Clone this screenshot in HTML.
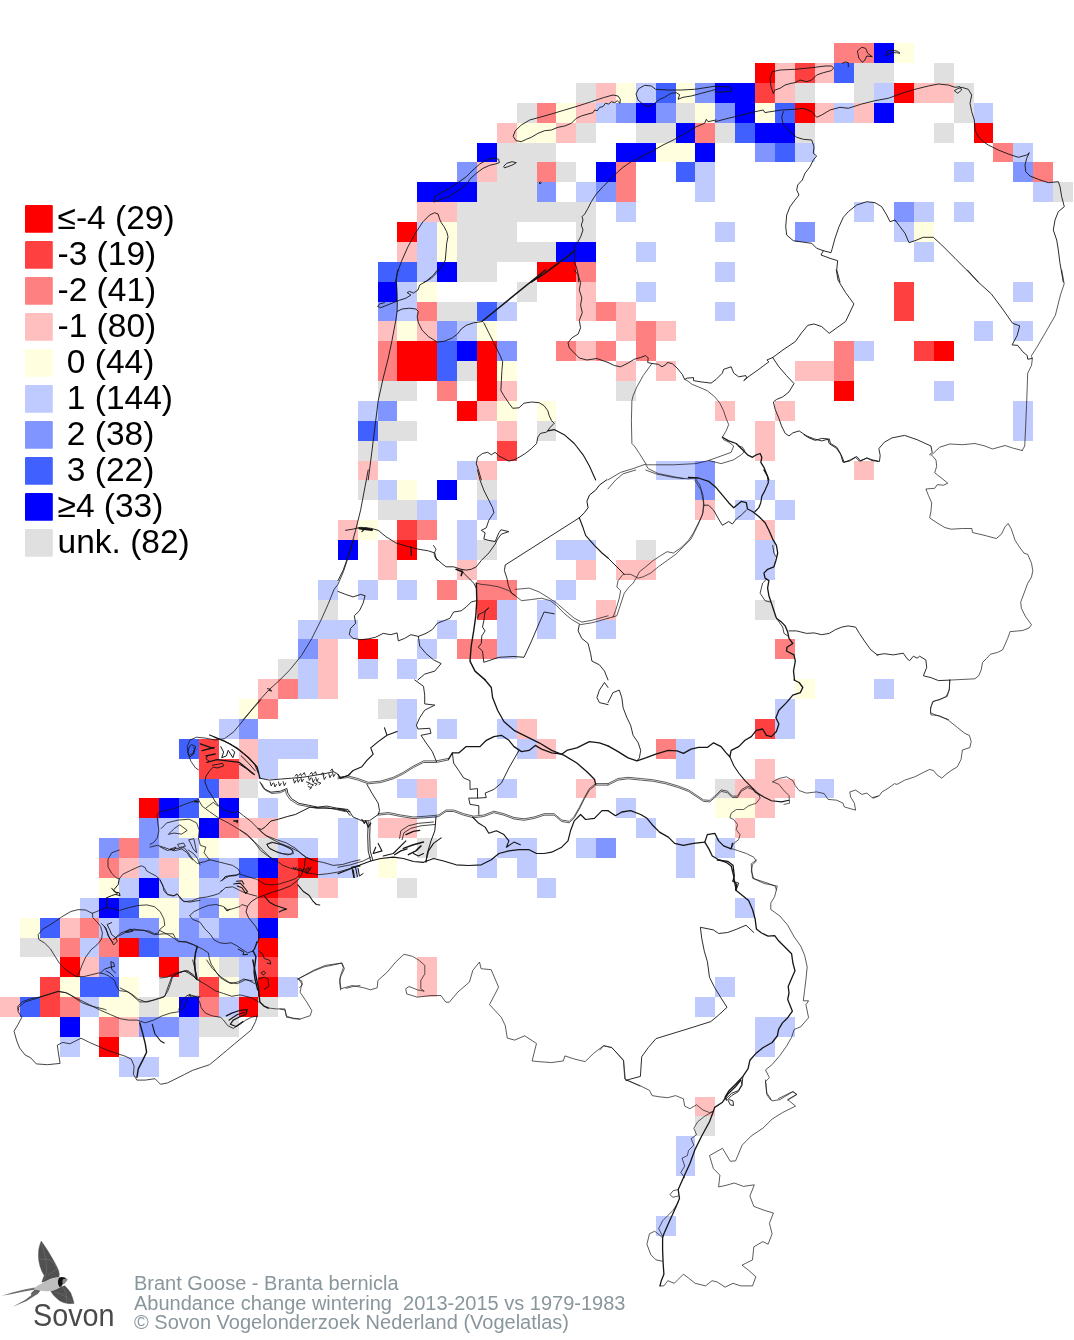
<!DOCTYPE html><html><head><meta charset="utf-8"><title>Brant Goose - Branta bernicla</title>
<style>html,body{margin:0;padding:0;background:#fff}svg{display:block;will-change:transform}text{font-family:"Liberation Sans",Arial,sans-serif}</style></head><body>
<svg width="1074" height="1340" viewBox="0 0 1074 1340">
<rect width="1074" height="1340" fill="#fff"/>
<g shape-rendering="crispEdges">
<rect x="834.48" y="43.20" width="39.73" height="19.88" fill="#ff8080"/>
<rect x="874.21" y="43.20" width="19.87" height="19.88" fill="#0000ff"/>
<rect x="894.07" y="43.20" width="19.87" height="19.88" fill="#ffffe0"/>
<rect x="755.02" y="63.08" width="19.87" height="19.88" fill="#ff0000"/>
<rect x="774.88" y="63.08" width="19.87" height="19.88" fill="#ffbfbf"/>
<rect x="794.75" y="63.08" width="19.87" height="19.88" fill="#ff4040"/>
<rect x="814.61" y="63.08" width="19.87" height="19.88" fill="#ffbfbf"/>
<rect x="834.48" y="63.08" width="19.87" height="19.88" fill="#4060ff"/>
<rect x="854.34" y="63.08" width="39.73" height="19.88" fill="#e0e0e0"/>
<rect x="933.80" y="63.08" width="19.87" height="19.88" fill="#e0e0e0"/>
<rect x="576.23" y="82.95" width="19.87" height="19.88" fill="#e0e0e0"/>
<rect x="596.10" y="82.95" width="19.87" height="19.88" fill="#ffbfbf"/>
<rect x="615.96" y="82.95" width="19.87" height="19.88" fill="#ffffe0"/>
<rect x="635.83" y="82.95" width="19.87" height="19.88" fill="#bfcaff"/>
<rect x="655.69" y="82.95" width="19.87" height="19.88" fill="#4060ff"/>
<rect x="675.56" y="82.95" width="19.87" height="19.88" fill="#ffffe0"/>
<rect x="695.42" y="82.95" width="19.87" height="19.88" fill="#8095ff"/>
<rect x="715.29" y="82.95" width="39.73" height="19.88" fill="#0000ff"/>
<rect x="755.02" y="82.95" width="19.87" height="19.88" fill="#ff4040"/>
<rect x="774.88" y="82.95" width="19.87" height="19.88" fill="#ffbfbf"/>
<rect x="794.75" y="82.95" width="19.87" height="19.88" fill="#e0e0e0"/>
<rect x="854.34" y="82.95" width="19.87" height="19.88" fill="#e0e0e0"/>
<rect x="874.21" y="82.95" width="19.87" height="19.88" fill="#bfcaff"/>
<rect x="894.07" y="82.95" width="19.87" height="19.88" fill="#ff0000"/>
<rect x="913.94" y="82.95" width="39.73" height="19.88" fill="#ffbfbf"/>
<rect x="953.67" y="82.95" width="19.86" height="19.88" fill="#e0e0e0"/>
<rect x="516.64" y="102.83" width="19.86" height="19.88" fill="#e0e0e0"/>
<rect x="536.50" y="102.83" width="19.87" height="19.88" fill="#ff8080"/>
<rect x="556.37" y="102.83" width="19.87" height="19.88" fill="#ffffe0"/>
<rect x="576.23" y="102.83" width="19.87" height="19.88" fill="#ffbfbf"/>
<rect x="596.10" y="102.83" width="19.87" height="19.88" fill="#bfcaff"/>
<rect x="615.96" y="102.83" width="19.87" height="19.88" fill="#8095ff"/>
<rect x="635.83" y="102.83" width="19.87" height="19.88" fill="#0000ff"/>
<rect x="655.69" y="102.83" width="19.87" height="19.88" fill="#8095ff"/>
<rect x="675.56" y="102.83" width="19.87" height="19.88" fill="#e0e0e0"/>
<rect x="695.42" y="102.83" width="19.87" height="19.88" fill="#ffffe0"/>
<rect x="715.29" y="102.83" width="19.87" height="19.88" fill="#8095ff"/>
<rect x="735.15" y="102.83" width="19.86" height="19.88" fill="#0000ff"/>
<rect x="755.02" y="102.83" width="19.87" height="19.88" fill="#ffffe0"/>
<rect x="774.88" y="102.83" width="19.87" height="19.88" fill="#4060ff"/>
<rect x="794.75" y="102.83" width="19.87" height="19.88" fill="#ff0000"/>
<rect x="814.61" y="102.83" width="19.87" height="19.88" fill="#ffbfbf"/>
<rect x="834.48" y="102.83" width="19.87" height="19.88" fill="#bfcaff"/>
<rect x="854.34" y="102.83" width="19.87" height="19.88" fill="#ffbfbf"/>
<rect x="874.21" y="102.83" width="19.87" height="19.88" fill="#0000ff"/>
<rect x="953.67" y="102.83" width="19.86" height="19.88" fill="#e0e0e0"/>
<rect x="973.53" y="102.83" width="19.87" height="19.88" fill="#bfcaff"/>
<rect x="496.77" y="122.70" width="19.87" height="19.87" fill="#ffbfbf"/>
<rect x="516.64" y="122.70" width="39.73" height="19.87" fill="#ffffe0"/>
<rect x="556.37" y="122.70" width="19.87" height="19.87" fill="#ffbfbf"/>
<rect x="576.23" y="122.70" width="19.87" height="19.87" fill="#e0e0e0"/>
<rect x="635.83" y="122.70" width="39.73" height="19.87" fill="#e0e0e0"/>
<rect x="675.56" y="122.70" width="19.87" height="19.87" fill="#0000ff"/>
<rect x="695.42" y="122.70" width="19.87" height="19.87" fill="#ff8080"/>
<rect x="715.29" y="122.70" width="19.87" height="19.87" fill="#e0e0e0"/>
<rect x="735.15" y="122.70" width="19.86" height="19.87" fill="#4060ff"/>
<rect x="755.02" y="122.70" width="39.73" height="19.87" fill="#0000ff"/>
<rect x="794.75" y="122.70" width="19.87" height="19.87" fill="#e0e0e0"/>
<rect x="933.80" y="122.70" width="19.87" height="19.87" fill="#e0e0e0"/>
<rect x="973.53" y="122.70" width="19.87" height="19.87" fill="#ff0000"/>
<rect x="476.91" y="142.57" width="19.86" height="19.88" fill="#0000ff"/>
<rect x="496.77" y="142.57" width="59.59" height="19.88" fill="#e0e0e0"/>
<rect x="615.96" y="142.57" width="39.73" height="19.88" fill="#0000ff"/>
<rect x="655.69" y="142.57" width="39.73" height="19.88" fill="#ffffe0"/>
<rect x="695.42" y="142.57" width="19.87" height="19.88" fill="#0000ff"/>
<rect x="755.02" y="142.57" width="19.87" height="19.88" fill="#8095ff"/>
<rect x="774.88" y="142.57" width="19.87" height="19.88" fill="#4060ff"/>
<rect x="794.75" y="142.57" width="19.87" height="19.88" fill="#bfcaff"/>
<rect x="993.40" y="142.57" width="19.87" height="19.88" fill="#ff8080"/>
<rect x="1013.26" y="142.57" width="19.87" height="19.88" fill="#bfcaff"/>
<rect x="457.04" y="162.45" width="19.87" height="19.88" fill="#8095ff"/>
<rect x="476.91" y="162.45" width="19.86" height="19.88" fill="#ffbfbf"/>
<rect x="496.77" y="162.45" width="39.73" height="19.88" fill="#e0e0e0"/>
<rect x="536.50" y="162.45" width="19.87" height="19.88" fill="#ff8080"/>
<rect x="556.37" y="162.45" width="19.87" height="19.88" fill="#e0e0e0"/>
<rect x="596.10" y="162.45" width="19.87" height="19.88" fill="#0000ff"/>
<rect x="615.96" y="162.45" width="19.87" height="19.88" fill="#ff8080"/>
<rect x="675.56" y="162.45" width="19.87" height="19.88" fill="#4060ff"/>
<rect x="695.42" y="162.45" width="19.87" height="19.88" fill="#bfcaff"/>
<rect x="953.67" y="162.45" width="19.86" height="19.88" fill="#bfcaff"/>
<rect x="1013.26" y="162.45" width="19.87" height="19.88" fill="#8095ff"/>
<rect x="1033.13" y="162.45" width="19.87" height="19.88" fill="#ff8080"/>
<rect x="417.31" y="182.32" width="59.60" height="19.88" fill="#0000ff"/>
<rect x="476.91" y="182.32" width="59.59" height="19.88" fill="#e0e0e0"/>
<rect x="536.50" y="182.32" width="19.87" height="19.88" fill="#8095ff"/>
<rect x="576.23" y="182.32" width="19.87" height="19.88" fill="#bfcaff"/>
<rect x="596.10" y="182.32" width="19.87" height="19.88" fill="#8095ff"/>
<rect x="615.96" y="182.32" width="19.87" height="19.88" fill="#ff8080"/>
<rect x="695.42" y="182.32" width="19.87" height="19.88" fill="#bfcaff"/>
<rect x="1033.13" y="182.32" width="19.87" height="19.88" fill="#bfcaff"/>
<rect x="1053.00" y="182.32" width="19.86" height="19.88" fill="#e0e0e0"/>
<rect x="417.31" y="202.20" width="39.73" height="19.88" fill="#ffbfbf"/>
<rect x="457.04" y="202.20" width="139.05" height="19.88" fill="#e0e0e0"/>
<rect x="615.96" y="202.20" width="19.87" height="19.88" fill="#bfcaff"/>
<rect x="854.34" y="202.20" width="19.87" height="19.88" fill="#bfcaff"/>
<rect x="894.07" y="202.20" width="19.87" height="19.88" fill="#8095ff"/>
<rect x="913.94" y="202.20" width="19.87" height="19.88" fill="#bfcaff"/>
<rect x="953.67" y="202.20" width="19.86" height="19.88" fill="#bfcaff"/>
<rect x="397.45" y="222.07" width="19.87" height="19.88" fill="#ff0000"/>
<rect x="417.31" y="222.07" width="19.87" height="19.88" fill="#bfcaff"/>
<rect x="437.18" y="222.07" width="19.87" height="19.88" fill="#ffffe0"/>
<rect x="457.04" y="222.07" width="59.60" height="19.88" fill="#e0e0e0"/>
<rect x="576.23" y="222.07" width="19.87" height="19.88" fill="#e0e0e0"/>
<rect x="715.29" y="222.07" width="19.87" height="19.88" fill="#bfcaff"/>
<rect x="794.75" y="222.07" width="19.87" height="19.88" fill="#8095ff"/>
<rect x="894.07" y="222.07" width="19.87" height="19.88" fill="#bfcaff"/>
<rect x="913.94" y="222.07" width="19.87" height="19.88" fill="#ffffe0"/>
<rect x="397.45" y="241.95" width="19.87" height="19.88" fill="#ffbfbf"/>
<rect x="417.31" y="241.95" width="19.87" height="19.88" fill="#bfcaff"/>
<rect x="437.18" y="241.95" width="19.87" height="19.88" fill="#ffffe0"/>
<rect x="457.04" y="241.95" width="99.32" height="19.88" fill="#e0e0e0"/>
<rect x="556.37" y="241.95" width="39.73" height="19.88" fill="#0000ff"/>
<rect x="635.83" y="241.95" width="19.87" height="19.88" fill="#bfcaff"/>
<rect x="913.94" y="241.95" width="19.87" height="19.88" fill="#bfcaff"/>
<rect x="377.58" y="261.82" width="39.73" height="19.88" fill="#4060ff"/>
<rect x="417.31" y="261.82" width="19.87" height="19.88" fill="#bfcaff"/>
<rect x="437.18" y="261.82" width="19.87" height="19.88" fill="#0000ff"/>
<rect x="457.04" y="261.82" width="39.73" height="19.88" fill="#e0e0e0"/>
<rect x="536.50" y="261.82" width="39.73" height="19.88" fill="#ff0000"/>
<rect x="576.23" y="261.82" width="19.87" height="19.88" fill="#ff8080"/>
<rect x="715.29" y="261.82" width="19.87" height="19.88" fill="#bfcaff"/>
<rect x="377.58" y="281.70" width="19.87" height="19.88" fill="#0000ff"/>
<rect x="397.45" y="281.70" width="19.87" height="19.88" fill="#bfcaff"/>
<rect x="417.31" y="281.70" width="19.87" height="19.88" fill="#ffffe0"/>
<rect x="516.64" y="281.70" width="19.86" height="19.88" fill="#e0e0e0"/>
<rect x="576.23" y="281.70" width="19.87" height="19.88" fill="#ffbfbf"/>
<rect x="635.83" y="281.70" width="19.87" height="19.88" fill="#bfcaff"/>
<rect x="894.07" y="281.70" width="19.87" height="19.88" fill="#ff4040"/>
<rect x="1013.26" y="281.70" width="19.87" height="19.88" fill="#bfcaff"/>
<rect x="377.58" y="301.57" width="19.87" height="19.88" fill="#8095ff"/>
<rect x="397.45" y="301.57" width="19.87" height="19.88" fill="#bfcaff"/>
<rect x="417.31" y="301.57" width="19.87" height="19.88" fill="#ff8080"/>
<rect x="437.18" y="301.57" width="39.73" height="19.88" fill="#e0e0e0"/>
<rect x="476.91" y="301.57" width="19.86" height="19.88" fill="#4060ff"/>
<rect x="496.77" y="301.57" width="19.87" height="19.88" fill="#bfcaff"/>
<rect x="576.23" y="301.57" width="19.87" height="19.88" fill="#ffbfbf"/>
<rect x="596.10" y="301.57" width="19.87" height="19.88" fill="#ff8080"/>
<rect x="615.96" y="301.57" width="19.87" height="19.88" fill="#ffbfbf"/>
<rect x="715.29" y="301.57" width="19.87" height="19.88" fill="#bfcaff"/>
<rect x="894.07" y="301.57" width="19.87" height="19.88" fill="#ff4040"/>
<rect x="377.58" y="321.45" width="19.87" height="19.88" fill="#ffbfbf"/>
<rect x="397.45" y="321.45" width="19.87" height="19.88" fill="#ffffe0"/>
<rect x="417.31" y="321.45" width="19.87" height="19.88" fill="#ffbfbf"/>
<rect x="437.18" y="321.45" width="19.87" height="19.88" fill="#8095ff"/>
<rect x="457.04" y="321.45" width="19.87" height="19.88" fill="#bfcaff"/>
<rect x="476.91" y="321.45" width="19.86" height="19.88" fill="#ffffe0"/>
<rect x="615.96" y="321.45" width="19.87" height="19.88" fill="#ffbfbf"/>
<rect x="635.83" y="321.45" width="19.87" height="19.88" fill="#ff8080"/>
<rect x="655.69" y="321.45" width="19.87" height="19.88" fill="#ffbfbf"/>
<rect x="973.53" y="321.45" width="19.87" height="19.88" fill="#bfcaff"/>
<rect x="1013.26" y="321.45" width="19.87" height="19.88" fill="#bfcaff"/>
<rect x="377.58" y="341.32" width="19.87" height="19.88" fill="#ff8080"/>
<rect x="397.45" y="341.32" width="39.73" height="19.88" fill="#ff0000"/>
<rect x="437.18" y="341.32" width="19.87" height="19.88" fill="#4060ff"/>
<rect x="457.04" y="341.32" width="19.87" height="19.88" fill="#0000ff"/>
<rect x="476.91" y="341.32" width="19.86" height="19.88" fill="#ff0000"/>
<rect x="496.77" y="341.32" width="19.87" height="19.88" fill="#8095ff"/>
<rect x="556.37" y="341.32" width="19.87" height="19.88" fill="#ff8080"/>
<rect x="576.23" y="341.32" width="19.87" height="19.88" fill="#ffbfbf"/>
<rect x="596.10" y="341.32" width="19.87" height="19.88" fill="#ff8080"/>
<rect x="635.83" y="341.32" width="19.87" height="19.88" fill="#ff8080"/>
<rect x="834.48" y="341.32" width="19.87" height="19.88" fill="#ff8080"/>
<rect x="854.34" y="341.32" width="19.87" height="19.88" fill="#bfcaff"/>
<rect x="913.94" y="341.32" width="19.87" height="19.88" fill="#ff4040"/>
<rect x="933.80" y="341.32" width="19.87" height="19.88" fill="#ff0000"/>
<rect x="377.58" y="361.20" width="19.87" height="19.88" fill="#ff8080"/>
<rect x="397.45" y="361.20" width="39.73" height="19.88" fill="#ff0000"/>
<rect x="437.18" y="361.20" width="19.87" height="19.88" fill="#4060ff"/>
<rect x="457.04" y="361.20" width="19.87" height="19.88" fill="#e0e0e0"/>
<rect x="476.91" y="361.20" width="19.86" height="19.88" fill="#ff0000"/>
<rect x="496.77" y="361.20" width="19.87" height="19.88" fill="#ffffe0"/>
<rect x="615.96" y="361.20" width="19.87" height="19.88" fill="#ffbfbf"/>
<rect x="655.69" y="361.20" width="19.87" height="19.88" fill="#ffbfbf"/>
<rect x="794.75" y="361.20" width="39.73" height="19.88" fill="#ffbfbf"/>
<rect x="834.48" y="361.20" width="19.87" height="19.88" fill="#ff8080"/>
<rect x="377.58" y="381.07" width="39.73" height="19.88" fill="#e0e0e0"/>
<rect x="437.18" y="381.07" width="19.87" height="19.88" fill="#ff8080"/>
<rect x="476.91" y="381.07" width="19.86" height="19.88" fill="#ff0000"/>
<rect x="496.77" y="381.07" width="19.87" height="19.88" fill="#ffbfbf"/>
<rect x="615.96" y="381.07" width="19.87" height="19.88" fill="#e0e0e0"/>
<rect x="834.48" y="381.07" width="19.87" height="19.88" fill="#ff0000"/>
<rect x="933.80" y="381.07" width="19.87" height="19.88" fill="#bfcaff"/>
<rect x="357.72" y="400.95" width="19.86" height="19.88" fill="#bfcaff"/>
<rect x="377.58" y="400.95" width="19.87" height="19.88" fill="#8095ff"/>
<rect x="457.04" y="400.95" width="19.87" height="19.88" fill="#ff0000"/>
<rect x="476.91" y="400.95" width="19.86" height="19.88" fill="#ffbfbf"/>
<rect x="496.77" y="400.95" width="19.87" height="19.88" fill="#ffffe0"/>
<rect x="536.50" y="400.95" width="19.87" height="19.88" fill="#ffffe0"/>
<rect x="715.29" y="400.95" width="19.87" height="19.88" fill="#ffbfbf"/>
<rect x="774.88" y="400.95" width="19.87" height="19.88" fill="#ffbfbf"/>
<rect x="1013.26" y="400.95" width="19.87" height="19.88" fill="#bfcaff"/>
<rect x="357.72" y="420.82" width="19.86" height="19.88" fill="#4060ff"/>
<rect x="377.58" y="420.82" width="39.73" height="19.88" fill="#e0e0e0"/>
<rect x="496.77" y="420.82" width="19.87" height="19.88" fill="#ffbfbf"/>
<rect x="536.50" y="420.82" width="19.87" height="19.88" fill="#e0e0e0"/>
<rect x="755.02" y="420.82" width="19.87" height="19.88" fill="#ffbfbf"/>
<rect x="1013.26" y="420.82" width="19.87" height="19.88" fill="#bfcaff"/>
<rect x="357.72" y="440.70" width="19.86" height="19.88" fill="#e0e0e0"/>
<rect x="377.58" y="440.70" width="19.87" height="19.88" fill="#bfcaff"/>
<rect x="496.77" y="440.70" width="19.87" height="19.88" fill="#ff4040"/>
<rect x="755.02" y="440.70" width="19.87" height="19.88" fill="#ffbfbf"/>
<rect x="357.72" y="460.57" width="19.86" height="19.88" fill="#ffbfbf"/>
<rect x="457.04" y="460.57" width="19.87" height="19.88" fill="#bfcaff"/>
<rect x="476.91" y="460.57" width="19.86" height="19.88" fill="#ffbfbf"/>
<rect x="655.69" y="460.57" width="39.73" height="19.88" fill="#bfcaff"/>
<rect x="695.42" y="460.57" width="19.87" height="19.88" fill="#8095ff"/>
<rect x="854.34" y="460.57" width="19.87" height="19.88" fill="#ffbfbf"/>
<rect x="357.72" y="480.45" width="19.86" height="19.88" fill="#e0e0e0"/>
<rect x="377.58" y="480.45" width="19.87" height="19.88" fill="#bfcaff"/>
<rect x="397.45" y="480.45" width="19.87" height="19.88" fill="#ffffe0"/>
<rect x="437.18" y="480.45" width="19.87" height="19.88" fill="#0000ff"/>
<rect x="476.91" y="480.45" width="19.86" height="19.88" fill="#e0e0e0"/>
<rect x="695.42" y="480.45" width="19.87" height="19.88" fill="#8095ff"/>
<rect x="755.02" y="480.45" width="19.87" height="19.88" fill="#bfcaff"/>
<rect x="377.58" y="500.32" width="39.73" height="19.88" fill="#e0e0e0"/>
<rect x="417.31" y="500.32" width="19.87" height="19.88" fill="#bfcaff"/>
<rect x="476.91" y="500.32" width="19.86" height="19.88" fill="#bfcaff"/>
<rect x="695.42" y="500.32" width="19.87" height="19.88" fill="#ffbfbf"/>
<rect x="735.15" y="500.32" width="19.86" height="19.88" fill="#bfcaff"/>
<rect x="774.88" y="500.32" width="19.87" height="19.88" fill="#bfcaff"/>
<rect x="337.85" y="520.20" width="19.87" height="19.88" fill="#ffbfbf"/>
<rect x="357.72" y="520.20" width="19.86" height="19.88" fill="#ffffe0"/>
<rect x="397.45" y="520.20" width="19.87" height="19.88" fill="#ff4040"/>
<rect x="417.31" y="520.20" width="19.87" height="19.88" fill="#ff8080"/>
<rect x="457.04" y="520.20" width="19.87" height="19.88" fill="#bfcaff"/>
<rect x="755.02" y="520.20" width="19.87" height="19.88" fill="#ffbfbf"/>
<rect x="337.85" y="540.08" width="19.87" height="19.88" fill="#0000ff"/>
<rect x="377.58" y="540.08" width="19.87" height="19.88" fill="#ffbfbf"/>
<rect x="397.45" y="540.08" width="19.87" height="19.88" fill="#ff0000"/>
<rect x="457.04" y="540.08" width="19.87" height="19.88" fill="#bfcaff"/>
<rect x="476.91" y="540.08" width="19.86" height="19.88" fill="#e0e0e0"/>
<rect x="556.37" y="540.08" width="39.73" height="19.88" fill="#bfcaff"/>
<rect x="635.83" y="540.08" width="19.87" height="19.88" fill="#e0e0e0"/>
<rect x="755.02" y="540.08" width="19.87" height="19.88" fill="#bfcaff"/>
<rect x="377.58" y="559.95" width="19.87" height="19.88" fill="#ffbfbf"/>
<rect x="457.04" y="559.95" width="19.87" height="19.88" fill="#ffbfbf"/>
<rect x="576.23" y="559.95" width="19.87" height="19.88" fill="#ffbfbf"/>
<rect x="615.96" y="559.95" width="39.73" height="19.88" fill="#ffbfbf"/>
<rect x="755.02" y="559.95" width="19.87" height="19.88" fill="#bfcaff"/>
<rect x="317.99" y="579.83" width="19.87" height="19.88" fill="#bfcaff"/>
<rect x="357.72" y="579.83" width="19.86" height="19.88" fill="#bfcaff"/>
<rect x="397.45" y="579.83" width="19.87" height="19.88" fill="#bfcaff"/>
<rect x="437.18" y="579.83" width="19.87" height="19.88" fill="#ff8080"/>
<rect x="476.91" y="579.83" width="39.73" height="19.88" fill="#ff8080"/>
<rect x="556.37" y="579.83" width="19.87" height="19.88" fill="#bfcaff"/>
<rect x="317.99" y="599.70" width="19.87" height="19.88" fill="#e0e0e0"/>
<rect x="476.91" y="599.70" width="19.86" height="19.88" fill="#ff4040"/>
<rect x="496.77" y="599.70" width="19.87" height="19.88" fill="#bfcaff"/>
<rect x="536.50" y="599.70" width="19.87" height="19.88" fill="#bfcaff"/>
<rect x="596.10" y="599.70" width="19.87" height="19.88" fill="#ffbfbf"/>
<rect x="755.02" y="599.70" width="19.87" height="19.88" fill="#e0e0e0"/>
<rect x="298.12" y="619.58" width="59.60" height="19.88" fill="#bfcaff"/>
<rect x="437.18" y="619.58" width="19.87" height="19.88" fill="#bfcaff"/>
<rect x="496.77" y="619.58" width="19.87" height="19.88" fill="#bfcaff"/>
<rect x="536.50" y="619.58" width="19.87" height="19.88" fill="#bfcaff"/>
<rect x="596.10" y="619.58" width="19.87" height="19.88" fill="#bfcaff"/>
<rect x="298.12" y="639.45" width="19.87" height="19.88" fill="#8095ff"/>
<rect x="317.99" y="639.45" width="19.87" height="19.88" fill="#ffbfbf"/>
<rect x="357.72" y="639.45" width="19.86" height="19.88" fill="#ff0000"/>
<rect x="417.31" y="639.45" width="19.87" height="19.88" fill="#bfcaff"/>
<rect x="457.04" y="639.45" width="39.73" height="19.88" fill="#ff8080"/>
<rect x="496.77" y="639.45" width="19.87" height="19.88" fill="#bfcaff"/>
<rect x="774.88" y="639.45" width="19.87" height="19.88" fill="#ff8080"/>
<rect x="278.26" y="659.33" width="19.87" height="19.88" fill="#e0e0e0"/>
<rect x="298.12" y="659.33" width="19.87" height="19.88" fill="#bfcaff"/>
<rect x="317.99" y="659.33" width="19.87" height="19.88" fill="#ffbfbf"/>
<rect x="357.72" y="659.33" width="19.86" height="19.88" fill="#bfcaff"/>
<rect x="397.45" y="659.33" width="19.87" height="19.88" fill="#bfcaff"/>
<rect x="258.39" y="679.20" width="19.86" height="19.88" fill="#ffbfbf"/>
<rect x="278.26" y="679.20" width="19.87" height="19.88" fill="#ff8080"/>
<rect x="298.12" y="679.20" width="19.87" height="19.88" fill="#bfcaff"/>
<rect x="317.99" y="679.20" width="19.87" height="19.88" fill="#ffbfbf"/>
<rect x="794.75" y="679.20" width="19.87" height="19.88" fill="#ffffe0"/>
<rect x="874.21" y="679.20" width="19.87" height="19.88" fill="#bfcaff"/>
<rect x="238.53" y="699.08" width="19.86" height="19.88" fill="#ffffe0"/>
<rect x="258.39" y="699.08" width="19.86" height="19.88" fill="#ff8080"/>
<rect x="377.58" y="699.08" width="19.87" height="19.88" fill="#e0e0e0"/>
<rect x="397.45" y="699.08" width="19.87" height="19.88" fill="#bfcaff"/>
<rect x="774.88" y="699.08" width="19.87" height="19.88" fill="#bfcaff"/>
<rect x="218.66" y="718.95" width="19.87" height="19.88" fill="#bfcaff"/>
<rect x="238.53" y="718.95" width="19.86" height="19.88" fill="#8095ff"/>
<rect x="397.45" y="718.95" width="19.87" height="19.88" fill="#bfcaff"/>
<rect x="437.18" y="718.95" width="19.87" height="19.88" fill="#bfcaff"/>
<rect x="496.77" y="718.95" width="19.87" height="19.88" fill="#bfcaff"/>
<rect x="516.64" y="718.95" width="19.86" height="19.88" fill="#ffbfbf"/>
<rect x="755.02" y="718.95" width="19.87" height="19.88" fill="#ff4040"/>
<rect x="774.88" y="718.95" width="19.87" height="19.88" fill="#bfcaff"/>
<rect x="178.94" y="738.83" width="19.86" height="19.88" fill="#4060ff"/>
<rect x="198.80" y="738.83" width="19.87" height="19.88" fill="#ff4040"/>
<rect x="238.53" y="738.83" width="19.86" height="19.88" fill="#ffbfbf"/>
<rect x="258.39" y="738.83" width="59.59" height="19.88" fill="#bfcaff"/>
<rect x="516.64" y="738.83" width="19.86" height="19.88" fill="#bfcaff"/>
<rect x="536.50" y="738.83" width="19.87" height="19.88" fill="#ffbfbf"/>
<rect x="655.69" y="738.83" width="19.87" height="19.88" fill="#ff8080"/>
<rect x="675.56" y="738.83" width="19.87" height="19.88" fill="#bfcaff"/>
<rect x="198.80" y="758.70" width="39.73" height="19.88" fill="#ff4040"/>
<rect x="238.53" y="758.70" width="19.86" height="19.88" fill="#ffbfbf"/>
<rect x="258.39" y="758.70" width="19.86" height="19.88" fill="#bfcaff"/>
<rect x="675.56" y="758.70" width="19.87" height="19.88" fill="#bfcaff"/>
<rect x="755.02" y="758.70" width="19.87" height="19.88" fill="#ffbfbf"/>
<rect x="198.80" y="778.58" width="19.87" height="19.88" fill="#4060ff"/>
<rect x="218.66" y="778.58" width="19.87" height="19.88" fill="#ffbfbf"/>
<rect x="238.53" y="778.58" width="19.86" height="19.88" fill="#e0e0e0"/>
<rect x="397.45" y="778.58" width="19.87" height="19.88" fill="#bfcaff"/>
<rect x="417.31" y="778.58" width="19.87" height="19.88" fill="#ffbfbf"/>
<rect x="496.77" y="778.58" width="19.87" height="19.88" fill="#bfcaff"/>
<rect x="576.23" y="778.58" width="19.87" height="19.88" fill="#ffbfbf"/>
<rect x="715.29" y="778.58" width="19.87" height="19.88" fill="#e0e0e0"/>
<rect x="735.15" y="778.58" width="59.59" height="19.88" fill="#ffbfbf"/>
<rect x="814.61" y="778.58" width="19.87" height="19.88" fill="#bfcaff"/>
<rect x="139.20" y="798.45" width="19.87" height="19.88" fill="#ff0000"/>
<rect x="159.07" y="798.45" width="19.87" height="19.88" fill="#0000ff"/>
<rect x="178.94" y="798.45" width="19.86" height="19.88" fill="#4060ff"/>
<rect x="198.80" y="798.45" width="19.87" height="19.88" fill="#ffffe0"/>
<rect x="218.66" y="798.45" width="19.87" height="19.88" fill="#0000ff"/>
<rect x="258.39" y="798.45" width="19.86" height="19.88" fill="#bfcaff"/>
<rect x="417.31" y="798.45" width="19.87" height="19.88" fill="#bfcaff"/>
<rect x="615.96" y="798.45" width="19.87" height="19.88" fill="#bfcaff"/>
<rect x="715.29" y="798.45" width="39.73" height="19.88" fill="#ffffe0"/>
<rect x="755.02" y="798.45" width="19.87" height="19.88" fill="#ffbfbf"/>
<rect x="139.20" y="818.33" width="19.87" height="19.88" fill="#8095ff"/>
<rect x="159.07" y="818.33" width="19.87" height="19.88" fill="#bfcaff"/>
<rect x="178.94" y="818.33" width="19.86" height="19.88" fill="#ffffe0"/>
<rect x="198.80" y="818.33" width="19.87" height="19.88" fill="#0000ff"/>
<rect x="218.66" y="818.33" width="19.87" height="19.88" fill="#ff8080"/>
<rect x="238.53" y="818.33" width="39.73" height="19.88" fill="#ffbfbf"/>
<rect x="337.85" y="818.33" width="19.87" height="19.88" fill="#bfcaff"/>
<rect x="377.58" y="818.33" width="39.73" height="19.88" fill="#ffbfbf"/>
<rect x="635.83" y="818.33" width="19.87" height="19.88" fill="#bfcaff"/>
<rect x="735.15" y="818.33" width="19.86" height="19.88" fill="#ffbfbf"/>
<rect x="99.47" y="838.20" width="19.87" height="19.88" fill="#8095ff"/>
<rect x="119.34" y="838.20" width="19.86" height="19.88" fill="#ff8080"/>
<rect x="139.20" y="838.20" width="19.87" height="19.88" fill="#8095ff"/>
<rect x="159.07" y="838.20" width="39.73" height="19.88" fill="#bfcaff"/>
<rect x="198.80" y="838.20" width="19.87" height="19.88" fill="#ffffe0"/>
<rect x="258.39" y="838.20" width="19.86" height="19.88" fill="#e0e0e0"/>
<rect x="278.26" y="838.20" width="39.73" height="19.88" fill="#bfcaff"/>
<rect x="337.85" y="838.20" width="19.87" height="19.88" fill="#bfcaff"/>
<rect x="417.31" y="838.20" width="19.87" height="19.88" fill="#e0e0e0"/>
<rect x="496.77" y="838.20" width="39.73" height="19.88" fill="#bfcaff"/>
<rect x="576.23" y="838.20" width="19.87" height="19.88" fill="#bfcaff"/>
<rect x="596.10" y="838.20" width="19.87" height="19.88" fill="#8095ff"/>
<rect x="675.56" y="838.20" width="19.87" height="19.88" fill="#bfcaff"/>
<rect x="715.29" y="838.20" width="19.87" height="19.88" fill="#bfcaff"/>
<rect x="99.47" y="858.08" width="19.87" height="19.88" fill="#ff8080"/>
<rect x="119.34" y="858.08" width="19.86" height="19.88" fill="#ffbfbf"/>
<rect x="139.20" y="858.08" width="19.87" height="19.88" fill="#bfcaff"/>
<rect x="159.07" y="858.08" width="19.87" height="19.88" fill="#ffbfbf"/>
<rect x="178.94" y="858.08" width="19.86" height="19.88" fill="#ffffe0"/>
<rect x="198.80" y="858.08" width="19.87" height="19.88" fill="#8095ff"/>
<rect x="218.66" y="858.08" width="19.87" height="19.88" fill="#bfcaff"/>
<rect x="238.53" y="858.08" width="19.86" height="19.88" fill="#4060ff"/>
<rect x="258.39" y="858.08" width="19.86" height="19.88" fill="#0000ff"/>
<rect x="278.26" y="858.08" width="19.87" height="19.88" fill="#ff4040"/>
<rect x="298.12" y="858.08" width="19.87" height="19.88" fill="#ff0000"/>
<rect x="317.99" y="858.08" width="39.73" height="19.88" fill="#bfcaff"/>
<rect x="377.58" y="858.08" width="19.87" height="19.88" fill="#ffffe0"/>
<rect x="476.91" y="858.08" width="19.86" height="19.88" fill="#bfcaff"/>
<rect x="516.64" y="858.08" width="19.86" height="19.88" fill="#bfcaff"/>
<rect x="675.56" y="858.08" width="19.87" height="19.88" fill="#bfcaff"/>
<rect x="99.47" y="877.95" width="19.87" height="19.88" fill="#ffffe0"/>
<rect x="119.34" y="877.95" width="19.86" height="19.88" fill="#bfcaff"/>
<rect x="139.20" y="877.95" width="19.87" height="19.88" fill="#0000ff"/>
<rect x="159.07" y="877.95" width="19.87" height="19.88" fill="#bfcaff"/>
<rect x="178.94" y="877.95" width="19.86" height="19.88" fill="#ffffe0"/>
<rect x="198.80" y="877.95" width="39.73" height="19.88" fill="#bfcaff"/>
<rect x="238.53" y="877.95" width="19.86" height="19.88" fill="#ffbfbf"/>
<rect x="258.39" y="877.95" width="19.86" height="19.88" fill="#ff0000"/>
<rect x="278.26" y="877.95" width="19.87" height="19.88" fill="#ff4040"/>
<rect x="298.12" y="877.95" width="19.87" height="19.88" fill="#e0e0e0"/>
<rect x="317.99" y="877.95" width="19.87" height="19.88" fill="#ffbfbf"/>
<rect x="397.45" y="877.95" width="19.87" height="19.88" fill="#e0e0e0"/>
<rect x="536.50" y="877.95" width="19.87" height="19.88" fill="#bfcaff"/>
<rect x="79.61" y="897.83" width="19.86" height="19.88" fill="#bfcaff"/>
<rect x="99.47" y="897.83" width="19.87" height="19.88" fill="#0000ff"/>
<rect x="119.34" y="897.83" width="19.86" height="19.88" fill="#4060ff"/>
<rect x="139.20" y="897.83" width="39.73" height="19.88" fill="#ffffe0"/>
<rect x="178.94" y="897.83" width="19.86" height="19.88" fill="#bfcaff"/>
<rect x="198.80" y="897.83" width="19.87" height="19.88" fill="#8095ff"/>
<rect x="218.66" y="897.83" width="19.87" height="19.88" fill="#ffffe0"/>
<rect x="238.53" y="897.83" width="19.86" height="19.88" fill="#ffbfbf"/>
<rect x="258.39" y="897.83" width="19.86" height="19.88" fill="#ff4040"/>
<rect x="278.26" y="897.83" width="19.87" height="19.88" fill="#ff8080"/>
<rect x="735.15" y="897.83" width="19.86" height="19.88" fill="#bfcaff"/>
<rect x="20.01" y="917.70" width="19.86" height="19.88" fill="#ffffe0"/>
<rect x="39.88" y="917.70" width="19.87" height="19.88" fill="#4060ff"/>
<rect x="59.74" y="917.70" width="19.87" height="19.88" fill="#ffbfbf"/>
<rect x="79.61" y="917.70" width="19.86" height="19.88" fill="#ff8080"/>
<rect x="99.47" y="917.70" width="19.87" height="19.88" fill="#bfcaff"/>
<rect x="119.34" y="917.70" width="39.73" height="19.88" fill="#8095ff"/>
<rect x="159.07" y="917.70" width="19.87" height="19.88" fill="#ffffe0"/>
<rect x="178.94" y="917.70" width="19.86" height="19.88" fill="#8095ff"/>
<rect x="198.80" y="917.70" width="19.87" height="19.88" fill="#bfcaff"/>
<rect x="218.66" y="917.70" width="39.73" height="19.88" fill="#8095ff"/>
<rect x="258.39" y="917.70" width="19.86" height="19.88" fill="#0000ff"/>
<rect x="20.01" y="937.58" width="39.73" height="19.88" fill="#e0e0e0"/>
<rect x="59.74" y="937.58" width="19.87" height="19.88" fill="#ff8080"/>
<rect x="79.61" y="937.58" width="19.86" height="19.88" fill="#bfcaff"/>
<rect x="99.47" y="937.58" width="19.87" height="19.88" fill="#ff8080"/>
<rect x="119.34" y="937.58" width="19.86" height="19.88" fill="#ff0000"/>
<rect x="139.20" y="937.58" width="19.87" height="19.88" fill="#4060ff"/>
<rect x="159.07" y="937.58" width="99.32" height="19.88" fill="#8095ff"/>
<rect x="258.39" y="937.58" width="19.86" height="19.88" fill="#ff0000"/>
<rect x="59.74" y="957.45" width="19.87" height="19.88" fill="#ff0000"/>
<rect x="79.61" y="957.45" width="19.86" height="19.88" fill="#ffbfbf"/>
<rect x="99.47" y="957.45" width="19.87" height="19.88" fill="#8095ff"/>
<rect x="159.07" y="957.45" width="19.87" height="19.88" fill="#ff0000"/>
<rect x="178.94" y="957.45" width="19.86" height="19.88" fill="#e0e0e0"/>
<rect x="198.80" y="957.45" width="19.87" height="19.88" fill="#ffffe0"/>
<rect x="218.66" y="957.45" width="19.87" height="19.88" fill="#e0e0e0"/>
<rect x="238.53" y="957.45" width="19.86" height="19.88" fill="#bfcaff"/>
<rect x="258.39" y="957.45" width="19.86" height="19.88" fill="#ff4040"/>
<rect x="417.31" y="957.45" width="19.87" height="19.88" fill="#ffbfbf"/>
<rect x="39.88" y="977.33" width="19.87" height="19.88" fill="#ff4040"/>
<rect x="59.74" y="977.33" width="19.87" height="19.88" fill="#ffffe0"/>
<rect x="79.61" y="977.33" width="39.73" height="19.88" fill="#4060ff"/>
<rect x="119.34" y="977.33" width="19.86" height="19.88" fill="#ffffe0"/>
<rect x="159.07" y="977.33" width="39.73" height="19.88" fill="#e0e0e0"/>
<rect x="198.80" y="977.33" width="19.87" height="19.88" fill="#ff4040"/>
<rect x="218.66" y="977.33" width="19.87" height="19.88" fill="#ffffe0"/>
<rect x="238.53" y="977.33" width="19.86" height="19.88" fill="#bfcaff"/>
<rect x="258.39" y="977.33" width="19.86" height="19.88" fill="#ff0000"/>
<rect x="278.26" y="977.33" width="19.87" height="19.88" fill="#bfcaff"/>
<rect x="417.31" y="977.33" width="19.87" height="19.88" fill="#ffbfbf"/>
<rect x="715.29" y="977.33" width="19.87" height="19.88" fill="#bfcaff"/>
<rect x="0.15" y="997.20" width="19.86" height="19.88" fill="#ffbfbf"/>
<rect x="20.01" y="997.20" width="19.86" height="19.88" fill="#4060ff"/>
<rect x="39.88" y="997.20" width="19.87" height="19.88" fill="#ff4040"/>
<rect x="59.74" y="997.20" width="19.87" height="19.88" fill="#ff8080"/>
<rect x="79.61" y="997.20" width="19.86" height="19.88" fill="#bfcaff"/>
<rect x="99.47" y="997.20" width="39.73" height="19.88" fill="#ffffe0"/>
<rect x="139.20" y="997.20" width="19.87" height="19.88" fill="#e0e0e0"/>
<rect x="159.07" y="997.20" width="19.87" height="19.88" fill="#ffffe0"/>
<rect x="178.94" y="997.20" width="19.86" height="19.88" fill="#0000ff"/>
<rect x="198.80" y="997.20" width="19.87" height="19.88" fill="#ff8080"/>
<rect x="218.66" y="997.20" width="19.87" height="19.88" fill="#bfcaff"/>
<rect x="238.53" y="997.20" width="19.86" height="19.88" fill="#ff0000"/>
<rect x="258.39" y="997.20" width="19.86" height="19.88" fill="#e0e0e0"/>
<rect x="695.42" y="997.20" width="19.87" height="19.88" fill="#bfcaff"/>
<rect x="59.74" y="1017.08" width="19.87" height="19.88" fill="#0000ff"/>
<rect x="99.47" y="1017.08" width="19.87" height="19.88" fill="#ff8080"/>
<rect x="119.34" y="1017.08" width="19.86" height="19.88" fill="#ffbfbf"/>
<rect x="139.20" y="1017.08" width="39.73" height="19.88" fill="#8095ff"/>
<rect x="178.94" y="1017.08" width="19.86" height="19.88" fill="#bfcaff"/>
<rect x="198.80" y="1017.08" width="39.73" height="19.88" fill="#e0e0e0"/>
<rect x="755.02" y="1017.08" width="39.73" height="19.88" fill="#bfcaff"/>
<rect x="59.74" y="1036.95" width="19.87" height="19.88" fill="#bfcaff"/>
<rect x="99.47" y="1036.95" width="19.87" height="19.88" fill="#ff0000"/>
<rect x="178.94" y="1036.95" width="19.86" height="19.88" fill="#bfcaff"/>
<rect x="755.02" y="1036.95" width="19.87" height="19.88" fill="#bfcaff"/>
<rect x="119.34" y="1056.83" width="39.73" height="19.88" fill="#bfcaff"/>
<rect x="695.42" y="1096.58" width="19.87" height="19.88" fill="#ffbfbf"/>
<rect x="695.42" y="1116.45" width="19.87" height="19.88" fill="#e0e0e0"/>
<rect x="675.56" y="1136.33" width="19.87" height="19.88" fill="#bfcaff"/>
<rect x="675.56" y="1156.20" width="19.87" height="19.88" fill="#bfcaff"/>
<rect x="655.69" y="1215.83" width="19.87" height="19.88" fill="#bfcaff"/>
</g>
<g fill="none" stroke="#151515" stroke-linejoin="round" stroke-linecap="round">
<path d="M513.3 136.0 L515.3 130.7 L521.3 125.0 L529.7 120.0 L539.7 117.3 L551.3 114.0 L564.7 110.0 L578.0 106.0 L591.3 101.7 L604.7 97.3 L613.0 95.0 L618.0 96.0 L620.3 99.3 L620.0 103.3 L617.3 100.7 L614.7 102.7 L611.3 101.7 L608.7 104.0 L605.3 103.3 L603.0 106.7 L599.7 107.3 L597.3 110.7 L594.7 110.0 L593.0 112.7 L588.0 114.0 L581.3 116.0 L576.3 118.3 L571.3 123.3 L564.7 126.0 L558.0 127.3 L551.3 130.0 L544.7 130.7 L538.0 133.3 L531.3 137.3 L526.3 139.3 L521.3 141.7 L516.3 140.7 Z" stroke-width="0.90"/>
<path d="M716.0 86.0 L708.0 87.3 L694.7 89.3 L681.3 90.0 L668.0 90.0 L655.7 89.3 L651.3 86.0 L644.7 85.3 L638.7 88.7 L636.0 94.0 L638.0 100.0 L644.0 105.0 L649.7 106.7 L654.7 103.3 L659.7 99.3 L664.7 97.3 L668.0 95.0 L671.3 93.3 L676.3 92.7 L679.7 94.7 L678.0 99.3 L683.0 97.3 L691.3 96.0 L701.3 93.3 L711.3 90.7 L716.0 89.3" stroke-width="0.90"/>
<path d="M434.0 201.7 L434.7 196.7 L441.3 192.7 L449.7 188.3 L458.0 182.7 L466.3 176.7 L473.0 170.0 L479.7 164.0 L488.0 159.3 L494.7 158.0 L498.7 159.3 L499.3 162.7 L495.3 164.0 L489.7 165.3 L483.0 168.3 L476.3 173.3 L469.7 179.3 L468.0 182.7 L465.3 185.0 L458.0 190.7 L449.7 196.0 L441.3 199.3 Z" stroke-width="0.90"/>
<path d="M504.0 166.0 L506.7 163.3 L512.0 161.7 L516.3 162.7 L513.0 164.7 L508.0 166.7 L504.7 167.7 Z" stroke-width="0.90"/>
<path d="M539.3 182.7 L540.3 181.7 L541.3 182.7 L540.3 183.7 Z" stroke-width="0.90"/>
<path d="M395.3 282.0 L397.3 273.3 L401.3 261.7 L408.0 246.7 L415.3 233.3 L423.0 221.7 L429.7 215.0 L434.7 212.7 L438.0 214.0 L439.7 219.3 L441.3 222.7 L444.0 226.7 L446.7 231.7 L448.0 236.7 L446.7 243.3 L446.0 251.7 L445.3 260.0 L443.0 265.0 L439.7 269.3 L436.3 273.3 L431.3 278.3 L426.3 281.3 L424.0 282.0" stroke-width="0.90"/>
<path d="M716.0 120.0 L708.0 121.7 L706.3 119.3 L704.7 123.3 L696.3 126.7 L686.3 132.7 L674.7 139.3 L663.0 145.0 L651.3 151.7 L641.3 156.7 L631.3 161.7 L623.0 167.3 L616.3 173.3 L609.7 180.0 L603.0 186.7 L596.3 194.0 L591.3 201.7 L588.0 208.3 L584.7 214.0 L582.0 216.7 L583.0 220.0 L581.3 225.0 L583.0 230.0 L580.7 236.7 L578.0 241.7 L574.7 246.7 L574.0 251.7 L575.3 256.7 L574.0 261.7 L576.3 266.7 L578.0 273.3 L578.7 282.0" stroke-width="0.90"/>
<path d="M574.7 250.7 L566.3 257.3 L558.0 263.3 L544.7 273.3 L531.3 282.0" stroke-width="1.60"/>
<path d="M715.0 86.7 L728.3 86.7 L731.7 88.7 L731.0 91.3 L725.0 92.0 L715.0 92.0" stroke-width="0.90"/>
<path d="M773.3 93.3 L771.0 86.7 L770.0 78.3 L772.3 71.7 L780.0 70.0 L795.0 69.3 L811.7 67.7 L825.0 66.0 L831.7 66.0 L833.7 68.3 L831.0 70.7 L823.3 72.7 L816.7 75.0 L811.7 80.0 L806.7 81.7 L800.0 80.0 L795.0 82.7 L791.0 83.3 L785.0 85.0 L780.0 88.3 L775.0 90.0 Z" stroke-width="0.90"/>
<path d="M857.7 50.7 L861.7 47.3 L865.7 48.3 L867.7 53.3 L872.3 56.7 L866.7 56.0 L865.0 60.0 L862.3 62.3 L859.0 58.3 Z" stroke-width="0.90"/>
<path d="M885.7 55.0 L886.7 51.7 L891.7 50.0 L897.7 51.3 L900.0 53.3 L896.7 52.7 L891.7 52.7 L888.3 54.7 Z" stroke-width="0.90"/>
<path d="M842.3 63.3 L845.0 62.0 L848.3 62.7 L848.3 66.7" stroke-width="0.90"/>
<path d="M715.0 121.7 L728.3 118.3 L741.7 115.0 L755.0 111.7 L763.3 110.0 L765.0 112.7 L768.3 112.0 L781.7 110.0 L795.0 109.3 L803.3 108.3 L811.7 111.7 L816.7 117.3 L821.7 115.0 L830.0 110.0 L840.0 107.3 L848.3 108.3 L861.7 104.0 L875.0 100.7 L888.3 98.3 L901.7 93.3 L915.0 89.3 L928.3 86.0 L938.3 84.0 L948.3 85.0 L955.0 87.3 L960.0 86.7 L961.7 90.0 L957.7 93.3 L954.3 90.7 L957.7 88.7 L961.7 87.3 L968.3 89.3 L971.7 95.0 L970.0 103.3 L971.7 111.7 L974.3 120.0 L975.0 130.0 L978.3 136.7 L983.3 141.7 L988.3 145.0 L998.3 150.0 L1008.3 154.0 L1018.3 157.3 L1026.7 155.0 L1029.3 152.7 L1026.7 158.3 L1025.0 165.0 L1025.7 171.7 L1030.0 176.0 L1038.3 179.3 L1048.3 182.7 L1058.3 181.7 L1060.0 186.7 L1061.7 196.7 L1064.3 206.7 L1058.3 211.7 L1055.0 220.0 L1053.3 230.0 L1056.7 240.0 L1058.3 250.0 L1060.0 263.3 L1063.3 282.0" stroke-width="0.90"/>
<path d="M783.3 111.7 L781.7 117.3 L783.3 125.0 L790.0 131.7 L796.7 137.3 L803.3 139.3 L811.7 140.0 L814.0 146.7 L813.3 153.3 L816.7 156.0 L813.3 160.0 L810.0 166.7 L805.0 173.3 L802.3 180.0 L797.7 185.0 L796.7 190.0 L799.0 195.0 L795.0 200.0 L790.0 206.7 L786.7 215.0 L785.7 226.7 L786.7 235.0 L793.3 240.7 L802.3 242.0 L811.7 243.3 L816.7 248.3 L823.3 250.7 L831.0 252.7 L832.3 248.3 L835.0 238.3 L839.0 226.7 L843.3 217.3 L848.3 211.7 L856.7 205.0 L866.7 201.7 L875.0 202.7 L881.7 206.7 L886.7 215.0 L890.0 221.7 L895.0 220.0 L900.0 226.7 L905.0 233.3 L909.0 242.7 L915.0 240.7 L923.3 237.3 L933.3 237.3 L941.7 245.0 L955.0 258.3 L968.3 271.7 L978.3 282.0" stroke-width="0.90"/>
<path d="M823.3 250.7 L821.0 255.0 L830.0 258.3 L837.7 260.7 L836.7 270.0 L840.0 282.0" stroke-width="0.90"/>
<path d="M437.3 270.0 L433.5 275.0 L426.0 281.3 L419.7 285.1 L417.9 290.1 L413.4 293.1 L409.6 291.4 L407.1 292.6 L410.9 295.1 L405.9 298.2 L399.6 300.2 L394.6 302.2 L387.0 305.2 L380.7 307.7 L377.7 306.5 L379.5 303.9 L384.5 302.7" stroke-width="0.90"/>
<path d="M397.6 270.0 L396.3 280.1 L397.1 292.6 L397.3 302.7 L397.1 311.5 L395.8 320.3 L392.0 340.4 L388.3 358.0 L383.2 378.1 L378.2 400.7 L375.7 420.8 L373.2 440.9 L370.7 461.1 L368.2 479.9" stroke-width="0.90"/>
<path d="M397.1 311.5 L402.1 309.0 L409.6 308.2 L415.9 309.0 L418.4 311.5 L417.2 316.5 L418.4 322.8 L422.2 330.3 L428.5 336.6 L437.3 342.1 L444.8 341.1 L452.4 337.9 L457.4 334.1 L461.2 329.1 L466.2 325.3 L473.7 322.8 L482.5 321.5" stroke-width="0.90"/>
<path d="M482.5 321.0 L545.4 270.0" stroke-width="1.60"/>
<path d="M483.8 322.8 L488.8 332.8 L495.1 345.4 L500.1 355.5 L502.7 361.8 L501.9 370.6 L501.4 380.6 L500.9 390.7 L503.9 395.7 L508.9 403.2 L512.7 408.3 L519.0 407.8 L524.0 403.2 L531.6 402.0 L539.1 402.7 L544.1 405.7 L547.9 410.8 L549.2 415.8 L551.7 420.8 L554.2 423.3 L550.4 427.1 L546.6 432.1 L540.4 433.4 L537.8 437.2 L536.6 443.5 L531.6 448.5 L525.3 453.5 L519.0 457.3 L514.0 459.8 L508.9 461.1 L503.9 458.5 L498.9 456.0 L495.1 452.3 L491.3 454.8 L487.6 452.3 L482.5 453.5 L477.5 457.3 L476.3 463.6 L478.8 471.1 L481.3 479.9" stroke-width="0.90"/>
<path d="M574.3 270.0 L578.1 275.0 L580.6 282.6 L579.3 290.1 L581.8 297.7 L580.6 305.2 L582.3 312.7 L579.3 320.3 L580.6 327.8 L578.1 334.1 L571.8 337.9 L568.0 342.9 L569.3 347.9 L574.3 353.0 L579.3 358.0 L586.9 360.0 L596.9 358.5 L608.0 362.5" stroke-width="0.90"/>
<path d="M547.9 430.9 L554.2 429.6 L564.2 434.7 L574.3 443.5 L583.1 454.8 L589.4 466.1 L595.7 479.9" stroke-width="1.10"/>
<path d="M608.0 362.5 L614.3 365.5 L620.6 366.8 L628.1 363.0 L634.4 359.2 L640.7 357.5 L645.7 355.5 L648.2 358.0 L647.7 362.5 L652.0 363.5 L658.3 364.3 L662.0 366.8 L666.3 364.3 L667.3 362.5 L672.1 363.5 L677.1 368.0 L682.2 374.3 L684.7 379.4 L687.2 378.1 L693.5 377.6 L693.5 380.6 L701.0 381.9 L711.1 383.1 L716.1 379.4 L722.4 373.1 L723.6 369.3 L731.2 366.8 L733.7 373.1 L738.7 376.8 L745.8 375.6 L746.8 378.1 L743.7 380.6 L745.8 378.6 L758.8 369.3 L768.9 361.8 L766.9 360.0 L772.7 357.5" stroke-width="0.90"/>
<path d="M772.7 357.5 L784.0 349.2 L795.3 341.6 L801.6 332.8 L807.8 325.3 L814.1 324.0 L821.7 326.6 L829.2 333.3 L836.8 327.8 L845.6 321.5 L853.9 303.9 L845.6 292.6 L838.0 280.1 L836.3 270.0" stroke-width="0.90"/>
<path d="M772.7 357.5 L778.9 366.8 L786.5 375.6 L794.0 383.6 L789.0 391.9 L782.7 396.9 L776.4 399.5 L773.4 402.0 L775.2 409.5 L778.9 418.3 L781.5 425.9 L785.2 433.4 L789.0 435.9 L792.8 432.9 L799.1 430.9 L806.6 435.9 L814.1 438.9 L821.7 440.9 L829.2 438.9 L830.5 443.5 L836.8 447.2 L840.5 453.5 L843.0 462.3 L849.3 461.1 L855.6 457.3 L859.4 461.1 L866.9 458.0 L872.0 459.8 L878.0 461.1" stroke-width="0.90"/>
<path d="M652.0 363.5 L649.5 366.8 L643.2 375.6 L636.9 386.9 L633.1 395.7 L631.9 400.7 L631.4 420.8 L631.9 443.5 L634.4 446.0 L639.4 453.5 L645.7 463.6 L647.0 464.8 L673.4 464.8 L696.0 463.6 L708.6 460.5 L721.1 456.0 L731.2 452.3 L733.7 446.0 L728.7 442.2 L723.6 439.7 L722.4 437.2 L726.1 430.9 L728.7 424.6 L726.1 418.3 L723.6 410.8 L719.9 403.2 L714.8 396.9 L707.3 390.7 L698.5 386.9 L692.2 384.4 L687.2 380.6 L684.7 379.4" stroke-width="0.70"/>
<path d="M645.7 464.1 L633.1 468.6 L620.6 472.4 L608.0 479.9" stroke-width="0.70"/>
<path d="M645.7 464.8 L648.2 468.6 L658.3 473.6 L673.4 476.6 L683.4 478.6" stroke-width="0.70"/>
<path d="M722.4 437.2 L728.7 440.9 L736.2 443.5 L742.5 449.7 L747.5 454.8 L752.5 457.3 L756.3 454.8 L760.1 453.5 L761.8 457.3 L760.8 462.3 L763.9 467.3 L766.4 473.6 L768.9 479.9" stroke-width="1.30"/>
<path d="M708.6 460.5 L721.1 463.6 L733.7 459.8 L741.2 454.8 L745.0 451.0 L742.5 447.2 L738.7 446.0" stroke-width="0.70"/>
<path d="M967.4 270.0 L978.2 282.1 L991.3 293.9 L1002.6 309.0 L1012.6 323.3 L1019.7 325.8 L1017.2 335.4 L1012.1 344.9 L1017.7 345.4 L1022.7 351.7 L1027.2 355.5 L1027.7 359.2 L1032.3 358.5" stroke-width="0.90"/>
<path d="M1061.7 270.0 L1064.2 283.8 L1060.4 295.1 L1055.4 315.2 L1045.3 332.8 L1036.5 347.9 L1031.5 355.5 L1032.3 359.2 L1031.5 365.5 L1027.7 373.1 L1027.2 388.1 L1026.5 405.7 L1025.7 425.9 L1024.7 446.0 L1022.2 450.5" stroke-width="0.70"/>
<path d="M804.0 434.7 L809.0 437.9 L815.3 440.4 L821.6 438.4 L827.9 438.9 L829.1 443.5 L836.7 448.5 L841.7 456.0 L844.2 462.3 L850.5 459.8 L856.8 456.5 L860.6 461.1 L866.8 458.0 L871.9 460.5 L879.4 461.6 L880.2 455.5 L878.9 448.5 L884.4 442.2 L892.0 437.9 L904.6 435.4 L917.1 439.7 L930.9 446.0 L932.2 452.3 L929.7 454.8" stroke-width="0.90"/>
<path d="M930.9 455.5 L939.7 447.2 L949.8 444.0 L962.4 444.7 L974.9 443.5 L985.0 446.0 L992.5 449.0 L1005.1 445.5 L1012.6 448.0 L1022.2 450.5" stroke-width="0.70"/>
<path d="M932.2 455.6 L936.0 460.1 L936.7 466.4 L934.7 472.7 L941.0 477.7 L947.8 483.2 L943.5 485.2 L937.2 484.7 L934.7 488.3 L925.9 489.0 L928.4 495.3 L931.7 502.8 L930.9 511.6 L929.7 517.9 L937.2 523.0 L944.8 527.5 L951.1 529.2 L962.4 528.5 L971.9 528.5 L972.4 532.5 L985.0 535.5 L996.3 538.5 L1001.3 534.3 L1005.1 526.7 L1008.1 523.5 L1011.4 529.2 L1015.2 540.6 L1020.2 548.1 L1024.0 553.1 L1027.7 554.4 L1031.5 563.2 L1032.8 570.7 L1031.5 577.0 L1027.7 583.3 L1024.0 593.3 L1020.7 602.1 L1021.4 608.4 L1025.2 616.0 L1031.5 624.8 L1029.0 628.0 L1022.7 630.5 L1016.4 631.1 L1010.1 631.6 L1007.6 638.6 L1002.6 649.9 L997.6 652.4 L990.5 654.2 L986.3 658.7 L982.5 662.5 L981.2 670.0 L978.7 675.8 L974.9 678.8 L949.8 680.1" stroke-width="0.70"/>
<path d="M876.9 654.9 L884.4 653.7 L893.2 654.9 L903.3 653.2 L907.1 658.7 L909.6 660.7 L913.4 656.2 L917.1 658.2 L919.6 656.2 L925.9 660.0 L926.7 667.5 L923.4 675.8 L930.9 677.6 L938.5 680.6 L949.8 680.1" stroke-width="0.90"/>
<path d="M949.8 680.1 L949.3 688.9 L947.3 696.4 L941.0 698.9 L933.5 701.4 L930.9 706.5 L930.4 712.8 L939.7 716.5 L948.5 719.5" stroke-width="0.70"/>
<path d="M368.2 470.0 L364.4 490.1 L360.6 510.2 L355.6 530.3 L349.3 553.0 L343.0 570.6 L338.0 580.6" stroke-width="0.90"/>
<path d="M345.5 530.3 L353.1 529.1 L360.6 527.3 L370.7 528.3 L378.2 530.3 L385.8 536.6 L395.8 542.9 L408.4 546.7 L418.4 549.2 L428.5 550.9 L434.8 553.0 L436.0 558.0 L441.1 563.0 L446.1 566.8 L453.6 566.8 L461.2 569.3 L463.7 573.1 L468.7 578.1 L473.7 583.1 L476.3 588.1" stroke-width="0.90"/>
<path d="M359.4 528.3 L371.9 529.8" stroke-width="2.20"/>
<path d="M361.9 531.6 L365.7 527.8 L369.4 529.1" stroke-width="1.20"/>
<path d="M410.9 546.7 L411.4 555.5" stroke-width="1.20"/>
<path d="M433.5 545.4 L436.0 549.2 L434.0 554.2 L437.3 560.5 L434.8 556.7" stroke-width="0.80"/>
<path d="M456.1 569.3 L462.4 571.8 L461.2 575.6" stroke-width="1.60"/>
<path d="M477.5 470.0 L480.0 480.1 L483.8 490.1 L488.8 500.2 L492.6 507.7 L493.9 512.7 L488.8 520.3 L486.3 527.8 L481.3 530.3 L485.1 532.8 L483.8 539.1 L488.8 540.4 L495.1 541.6 L498.9 532.8 L500.9 529.8 L508.9 531.6 L501.4 534.1 L497.6 539.1 L495.1 544.2 L488.8 553.0 L481.3 560.5 L476.3 566.8 L471.2 569.3 L466.2 570.1 L461.2 569.3" stroke-width="0.90"/>
<path d="M607.0 479.6 L599.4 485.1 L595.7 490.1 L589.4 495.1 L586.9 501.4 L588.1 507.7 L584.4 512.7 L579.3 517.8" stroke-width="1.00"/>
<path d="M579.3 517.8 L505.2 565.0" stroke-width="0.90"/>
<path d="M579.3 517.8 L583.1 527.8 L585.6 535.4 L594.4 545.4 L602.0 553.0 L608.0 558.0" stroke-width="1.10"/>
<path d="M505.2 565.5 L504.4 570.6 L506.9 578.1 L508.4 585.6 L511.5 593.2 L515.2 595.7" stroke-width="0.90"/>
<path d="M476.3 583.1 L481.3 584.4 L488.8 585.1 L498.9 586.9 L508.9 590.7 L515.2 595.7 L521.5 600.7 L531.6 599.5 L541.6 598.2 L550.4 600.7 L556.7 605.7 L564.2 613.3 L571.8 619.6 L580.6 624.6 L591.9 622.8 L599.4 620.8 L608.0 618.3" stroke-width="0.70"/>
<path d="M515.2 589.4 L529.1 588.1 L539.1 591.9 L549.2 598.2 L556.7 603.2 L565.5 610.8 L574.3 618.3 L581.8 622.1 L591.9 620.3 L608.0 615.8" stroke-width="0.70"/>
<path d="M338.0 591.4 L345.5 594.4 L353.1 596.9 L360.6 594.4 L365.1 595.7 L363.1 603.2 L359.4 610.8 L354.3 615.8 L355.6 623.3 L350.6 628.4 L349.3 634.7 L353.1 638.4 L360.6 639.7 L368.2 638.9 L375.7 637.2 L383.2 633.4 L390.8 634.7 L397.1 632.9 L398.3 640.9 L404.6 638.4 L410.9 634.7 L418.4 636.4 L426.0 633.4 L432.3 629.6 L437.3 623.3 L443.6 620.8 L449.9 618.3 L453.6 612.0 L461.2 610.8 L466.2 607.0 L471.2 602.0 L476.3 600.7" stroke-width="0.90"/>
<path d="M476.3 583.1 L476.8 600.7 L475.8 615.8 L473.7 630.9 L471.2 646.0 L470.0 661.1 L475.0 671.1 L485.1 679.9" stroke-width="1.40"/>
<path d="M477.5 618.3 L478.8 614.5 L483.8 612.0 L488.8 607.8 L485.1 611.3 L483.8 620.8 L482.5 627.1 L485.1 630.9 L481.8 635.9 L481.3 643.5 L478.3 647.2 L482.5 651.0 L483.8 662.3 L498.9 657.3 L514.0 656.5 L524.0 657.3 L531.6 640.9 L539.1 623.3 L544.1 612.0 L554.2 613.8" stroke-width="0.90"/>
<path d="M418.4 636.4 L419.7 646.0 L426.0 653.5 L433.5 659.8 L441.1 663.6 L434.8 671.1 L424.7 674.1 L417.9 679.9" stroke-width="0.90"/>
<path d="M579.3 624.6 L578.1 630.9 L581.8 638.4 L588.1 643.5 L590.6 653.5 L591.9 661.1 L599.4 664.8 L604.5 671.1 L608.0 679.9" stroke-width="0.90"/>
<path d="M608.0 488.9 L615.5 480.1 L623.1 473.8 L635.7 470.0" stroke-width="0.70"/>
<path d="M645.7 470.0 L655.8 473.8 L673.4 477.5 L688.4 478.8 L694.7 477.5" stroke-width="0.70"/>
<path d="M694.7 477.5 L699.8 485.1 L703.0 495.1 L704.0 505.2 L702.3 515.2 L697.2 525.3 L693.5 532.8 L688.4 540.4 L680.9 547.9 L673.4 553.0 L667.1 551.7 L660.8 555.5 L653.2 560.5 L645.7 566.8 L639.4 571.8 L636.9 576.8 L633.1 583.1 L628.1 588.1 L624.3 593.2 L621.8 600.7 L619.3 608.3 L616.8 615.8 L608.0 618.3" stroke-width="0.70"/>
<path d="M694.7 480.1 L701.0 490.1 L703.5 502.7 L703.0 512.7 L698.5 524.0 L694.7 531.6 L691.0 539.1 L683.4 546.7 L675.9 554.2 L667.1 560.5 L658.3 566.8 L650.7 573.1 L643.2 576.8 L638.2 578.1 L630.6 574.3 L623.1 574.3 L618.1 580.6 L616.8 586.9 L620.6 590.7 L619.3 598.2 L615.5 610.8 L613.0 617.1" stroke-width="0.70"/>
<path d="M608.0 558.0 L616.8 566.8 L624.3 574.3" stroke-width="1.00"/>
<path d="M688.4 477.5 L698.5 478.0 L708.6 481.3 L716.1 487.6 L722.4 495.1 L728.7 502.7 L733.7 507.7 L741.2 501.4 L746.3 502.7 L747.5 509.0 L752.5 511.5 L758.8 516.5 L765.1 522.8 L768.9 530.3 L772.7 539.1 L776.4 545.4 L777.7 553.0 L775.9 560.5 L773.9 566.8 L767.6 569.3 L763.9 573.1 L765.1 578.1 L768.9 580.6 L767.6 588.1 L768.9 595.7 L771.4 603.2 L773.9 610.8 L776.4 618.3 L781.5 622.1 L785.2 625.9 L787.7 632.1 L789.0 638.4 L792.8 643.5 L787.0 647.2 L786.5 651.0 L794.0 654.8 L795.3 661.1 L793.5 671.1 L794.5 679.9" stroke-width="1.30"/>
<path d="M766.4 579.4 L762.6 583.1 L760.1 593.2 L765.1 600.7 L770.1 602.0" stroke-width="0.80"/>
<path d="M772.7 545.4 L773.9 553.0 L775.9 556.7" stroke-width="0.80"/>
<path d="M776.4 618.3 L782.7 627.1 L784.0 633.4 L787.7 635.9" stroke-width="0.80"/>
<path d="M763.9 470.0 L767.6 476.3 L768.4 482.6 L765.1 490.1 L761.8 496.4 L760.8 502.7 L758.8 507.7 L755.1 511.5" stroke-width="1.20"/>
<path d="M704.0 505.2 L708.6 505.2 L713.6 510.2 L718.6 519.0 L722.4 525.3 L728.7 521.5 L732.4 524.0 L736.2 519.0 L741.2 515.2 L746.3 510.2" stroke-width="0.90"/>
<path d="M789.0 630.9 L796.5 630.9 L806.6 633.4 L814.1 632.9 L821.7 634.7 L829.2 633.4 L835.5 629.6 L841.8 627.1 L848.1 625.9 L855.6 627.1 L859.4 633.4 L864.4 640.9 L870.7 649.7 L878.0 655.5" stroke-width="0.90"/>
<path d="M414.7 680.0 L423.5 686.3 L424.7 695.1 L424.7 703.9 L434.8 705.1 L424.7 710.2 L419.7 717.7 L416.4 725.2 L417.9 729.0 L429.8 728.3 L431.0 733.3 L421.0 735.3 L426.0 742.8 L432.3 751.6 L436.5 761.7" stroke-width="0.90"/>
<path d="M397.1 731.5 L387.0 735.3 L384.5 727.8 L387.0 735.3 L378.2 741.6 L370.7 747.9 L373.2 754.2 L366.9 760.4 L361.9 766.7 L353.1 770.5 L348.1 775.5 L340.5 778.0 L338.0 774.3" stroke-width="1.10"/>
<path d="M338.0 777.3 L348.1 776.0 L358.1 778.5 L368.2 782.3 L380.7 781.1 L393.3 777.3 L403.4 772.3 L413.4 766.0 L423.5 760.9 L436.0 760.9 L448.6 758.4" stroke-width="0.70"/>
<path d="M338.0 778.8 L348.1 777.5 L358.1 780.1 L368.2 783.8 L380.7 782.6 L393.3 778.8 L403.4 773.8 L413.4 767.5 L423.5 762.5 L436.0 762.5 L448.6 759.9" stroke-width="0.70"/>
<path d="M448.6 759.2 L452.4 752.9 L458.7 752.9 L466.2 746.6 L473.7 746.6 L480.0 746.6 L486.3 740.3 L493.9 736.6 L501.4 735.3 L508.9 740.3 L514.0 746.6 L521.5 751.6 L529.1 750.4 L535.3 745.4 L541.6 749.1 L551.7 752.9 L561.7 754.2 L566.8 750.4 L576.8 747.9 L589.4 741.6 L599.4 742.8 L608.0 745.9" stroke-width="1.30"/>
<path d="M485.1 680.0 L491.3 687.5 L492.6 697.6 L497.6 710.2 L503.9 721.5 L514.0 730.3 L526.5 736.6 L539.1 742.8 L551.7 750.4 L564.2 755.4 L576.8 763.0 L586.9 771.8 L594.4 779.3 L595.7 784.3" stroke-width="1.30"/>
<path d="M608.0 687.5 L604.5 682.5 L599.4 690.1 L596.9 697.6 L599.4 702.6 L608.0 704.6" stroke-width="0.90"/>
<path d="M452.4 752.9 L453.6 763.0 L458.7 770.5 L463.7 778.0 L470.0 780.6 L470.0 789.4 L477.5 788.6 L477.5 798.1 L468.7 798.1 L470.0 804.4 L478.8 805.7 L478.8 814.5" stroke-width="0.90"/>
<path d="M477.5 798.1 L486.3 797.6 L485.1 793.1 L493.9 789.4 L501.4 783.1 L508.9 768.0 L519.0 750.4" stroke-width="0.90"/>
<path d="M378.2 813.7 L388.3 812.5 L400.8 815.0 L413.4 817.0 L426.0 816.2 L438.6 815.0 L446.1 810.0 L453.6 810.0 L463.7 813.7 L473.7 816.2 L483.8 815.0 L493.9 811.2 L503.9 813.7 L514.0 817.5 L524.0 818.8 L534.1 817.0 L544.1 813.7 L554.2 813.7 L561.7 820.0 L569.3 821.3 L574.3 816.2 L579.3 807.5 L584.4 797.4 L589.4 788.6 L595.7 783.6 L608.0 783.6" stroke-width="0.70"/>
<path d="M378.2 815.2 L388.3 814.0 L400.8 816.5 L413.4 818.5 L426.0 817.8 L438.6 816.5 L446.1 811.5 L453.6 811.5 L463.7 815.2 L473.7 817.8 L483.8 816.5 L493.9 812.7 L503.9 815.2 L514.0 819.0 L524.0 820.3 L534.1 818.5 L544.1 815.2 L554.2 815.2 L561.7 821.5 L569.3 822.8 L574.3 817.8 L579.3 809.0 L584.4 798.9 L589.4 790.1 L595.7 785.1 L608.0 785.1" stroke-width="0.70"/>
<path d="M608.0 810.7 L602.0 810.7 L594.4 818.3 L585.6 819.5 L580.6 814.5 L574.3 820.8 L570.5 830.8 L568.0 840.9 L561.7 847.2 L551.7 852.2 L544.1 853.5 L536.6 853.5 L529.1 849.7 L519.0 849.7 L508.9 850.9 L498.9 853.5 L491.3 859.7 L481.3 864.8 L468.7 865.5 L456.1 864.8 L443.6 861.0 L433.5 858.5 L423.5 862.3 L413.4 861.5 L403.4 858.5 L393.3 857.2 L380.7 858.5 L370.7 861.0 L360.6 864.8 L348.1 869.8 L338.0 873.6" stroke-width="1.20"/>
<path d="M472.5 817.0 L478.8 823.3 L485.1 827.1 L488.8 833.3 L496.4 830.8 L503.9 834.6 L508.9 840.9 L506.4 847.2 L514.0 842.1 L520.3 844.7" stroke-width="1.10"/>
<path d="M338.0 808.2 L348.1 809.5 L353.1 817.0 L361.9 820.8 L369.4 820.8 L378.2 814.5" stroke-width="0.90"/>
<path d="M366.9 784.3 L371.9 793.1 L378.2 803.2 L379.5 810.7 L378.2 814.5" stroke-width="0.90"/>
<path d="M368.2 822.0 L367.7 835.9 L368.2 850.9 L370.7 861.0" stroke-width="0.90"/>
<path d="M370.2 822.0 L369.7 835.9 L370.2 850.9 L372.7 859.7" stroke-width="0.90"/>
<path d="M338.0 867.3 L350.6 864.8 L363.1 861.0 L370.7 857.2" stroke-width="0.80"/>
<path d="M361.9 819.5 L364.4 823.3 L365.7 820.8 L368.2 827.1 L370.7 823.3" stroke-width="1.20"/>
<path d="M353.1 869.8 L354.3 877.3" stroke-width="1.20"/>
<path d="M358.1 868.5 L359.4 876.1 L363.1 873.6" stroke-width="1.00"/>
<path d="M378.2 843.4 L382.0 850.9 L373.2 853.5 L375.7 847.2" stroke-width="1.10"/>
<path d="M399.6 838.4 L400.8 830.8 L408.4 825.8 L418.4 823.3 L433.5 822.0" stroke-width="0.80"/>
<path d="M402.1 839.6 L403.9 832.8 L410.9 828.3 L421.0 825.8 L434.8 824.5" stroke-width="0.80"/>
<path d="M405.9 834.6 L413.4 831.3 L419.7 830.3" stroke-width="1.30"/>
<path d="M405.9 840.9 L393.3 853.5 L383.2 856.0" stroke-width="1.10"/>
<path d="M403.4 848.4 L413.4 844.7 L423.5 842.1" stroke-width="1.50"/>
<path d="M408.4 854.7 L415.9 850.9 L421.0 845.9" stroke-width="1.50"/>
<path d="M394.6 854.7 L400.8 850.9 L407.1 848.9" stroke-width="1.30"/>
<path d="M426.0 861.0 L428.5 850.9 L433.5 843.4 L441.1 837.9" stroke-width="1.10"/>
<path d="M436.0 817.0 L434.8 830.8 L431.0 840.9 L427.2 853.5 L426.0 862.3" stroke-width="1.00"/>
<path d="M413.4 853.5 L418.4 856.0 L423.5 853.5" stroke-width="1.10"/>
<path d="M608.0 702.6 L613.0 692.6 L619.3 690.1 L621.8 697.6 L623.1 707.7 L626.9 717.7 L630.6 725.2 L633.1 735.3 L638.2 742.8 L640.7 750.4 L639.4 757.9 L636.9 760.9" stroke-width="0.90"/>
<path d="M608.0 745.9 L618.1 751.6 L628.1 757.9 L636.9 760.9 L645.7 757.9 L655.8 754.2 L668.3 750.4 L677.1 750.9 L683.4 753.4 L691.0 749.1 L698.5 747.4 L707.3 747.4 L713.6 742.8 L721.1 746.6 L726.1 752.9 L729.9 756.7 L731.2 750.4 L738.7 746.6 L745.0 740.3 L751.3 736.6 L756.3 730.3 L762.6 729.0 L766.4 735.3 L771.4 736.6 L776.4 731.5 L778.9 724.0 L775.9 717.7 L778.9 710.2 L786.5 702.6 L792.8 695.1 L800.3 692.6 L802.8 687.5 L799.1 682.5 L794.0 680.0" stroke-width="1.30"/>
<path d="M729.9 756.7 L733.7 765.5 L738.7 773.0 L745.0 780.6 L751.3 786.8 L755.1 791.9 L763.9 796.9 L771.4 800.7 L781.5 801.9 L789.0 800.2" stroke-width="1.10"/>
<path d="M608.0 783.6 L618.1 778.5 L628.1 777.3 L640.7 778.5 L653.2 779.8 L665.8 782.3 L678.4 786.1 L688.4 789.9 L696.0 794.9 L703.5 799.9 L709.8 800.4 L716.1 794.9 L721.1 789.9 L727.4 791.1 L732.4 796.1 L737.5 796.1 L741.2 789.9 L747.5 786.1 L753.8 788.6 L758.8 793.6" stroke-width="0.70"/>
<path d="M608.0 785.1 L618.1 780.1 L628.1 778.8 L640.7 780.1 L653.2 781.3 L665.8 783.8 L678.4 787.6 L688.4 791.4 L696.0 796.4 L703.5 801.4 L709.8 801.9 L716.1 796.4 L721.1 791.4 L727.4 792.6 L732.4 797.6 L737.5 797.6 L741.2 791.4 L747.5 787.6 L753.8 790.1 L758.8 795.1" stroke-width="0.70"/>
<path d="M758.8 794.4 L760.1 798.1 L756.3 803.2 L748.8 805.7 L743.7 809.5 L736.2 809.5 L731.2 813.2 L729.9 817.8 L733.7 819.5 L737.5 824.5 L736.2 829.6 L740.0 834.6 L738.7 839.6 L733.7 843.4 L731.2 847.9" stroke-width="0.70"/>
<path d="M772.7 781.8 L778.9 778.5 L786.5 776.8 L792.8 780.6 L795.3 785.6 L799.1 790.6 L806.6 793.1 L816.6 791.9 L824.2 793.6 L828.0 799.4 L836.8 800.2 L843.0 803.2 L844.3 806.9 L855.6 810.2 L854.4 803.2 L850.6 796.9 L849.8 791.9 L855.6 790.1 L861.9 794.4 L866.9 793.1 L872.0 797.6 L878.0 796.1" stroke-width="0.70"/>
<path d="M772.7 781.8 L778.9 784.3 L784.0 790.6 L789.0 795.6 L789.5 803.2 L784.0 804.4" stroke-width="0.70"/>
<path d="M608.0 810.7 L615.5 815.7 L621.8 812.0 L630.6 810.7 L640.7 814.5 L647.0 818.3 L653.2 825.8 L659.5 832.1 L668.3 837.1 L674.6 843.4 L683.4 845.4 L693.5 843.4 L704.8 842.1 L707.3 834.6 L714.8 833.3 L718.6 840.9 L723.6 845.9 L731.2 848.9 L732.4 843.4" stroke-width="1.30"/>
<path d="M704.8 842.1 L708.6 848.4 L712.3 856.0 L718.6 859.7 L726.1 862.3 L731.2 866.0 L733.7 876.1 L734.9 883.6 L736.2 889.9" stroke-width="1.30"/>
<path d="M732.4 881.1 L738.7 883.1 L736.2 889.9" stroke-width="0.90"/>
<path d="M732.4 848.9 L738.7 850.9 L746.3 853.5 L753.8 857.2 L756.3 861.0 L752.5 864.8 L751.3 871.1 L753.8 878.6 L761.3 881.1 L768.9 883.6 L775.2 886.1 L776.4 889.9" stroke-width="0.70"/>
<path d="M949.8 680.1 L949.3 690.2 L946.0 696.5 L939.7 699.7 L932.7 701.5 L930.4 709.0 L930.9 714.8 L939.7 715.8 L948.5 720.3 L957.3 727.4 L964.9 733.4 L969.4 735.4 L971.2 741.7 L969.9 747.5 L962.4 750.0 L961.1 759.3 L957.3 766.8 L951.1 770.6 L946.0 774.4 L941.8 778.1 L937.2 775.1 L933.5 770.6 L929.7 769.4 L922.1 773.1 L914.6 776.9 L904.6 780.2 L897.0 784.4 L894.5 783.7 L888.2 788.2 L881.9 792.0 L879.4 795.7 L873.1 798.3" stroke-width="0.70"/>
<path d="M353.6 540.0 L349.0 554.9 L343.4 571.7 L337.8 584.7 L334.1 589.3 L328.5 603.3 L321.0 620.1 L311.7 638.7 L301.5 655.5 L289.4 670.4 L278.2 681.5 L268.9 689.9 L259.6 700.1 L250.3 711.3 L242.8 720.1" stroke-width="0.80"/>
<path d="M267.4 688.6 L270.4 689.3 L271.7 691.2 L269.3 690.5" stroke-width="0.90"/>
<path d="M260.8 700.0 L252.4 709.3 L243.1 720.5 L233.8 731.7 L224.5 738.7 L215.2 740.0 L205.9 738.2 L196.6 737.2 L190.0 740.0 L187.2 746.6 L188.2 754.0 L191.0 761.5 L195.6 768.0 L198.4 769.8" stroke-width="0.80"/>
<path d="M191.9 744.7 L195.6 746.6 L193.8 754.0 L190.0 756.8 L187.8 752.1 L189.1 747.5 Z" stroke-width="0.90"/>
<path d="M193.2 747.5 L194.7 748.8 L192.5 754.0 L190.6 754.4" stroke-width="0.90"/>
<path d="M209.6 735.0 L224.5 741.0 L237.5 748.4 L248.7 757.7 L257.1 767.0 L259.9 778.2" stroke-width="1.30"/>
<path d="M214.2 737.2 L230.1 743.8 L243.1 753.1 L254.3 763.3 L258.0 772.6" stroke-width="0.90"/>
<path d="M200.3 743.8 L213.3 748.4" stroke-width="1.30"/>
<path d="M202.1 750.7 L214.2 747.5" stroke-width="1.30"/>
<path d="M205.9 755.9 L215.2 754.0" stroke-width="1.30"/>
<path d="M206.8 762.4 L217.0 759.6 L239.4 762.4 L254.3 774.5" stroke-width="1.30"/>
<path d="M209.6 761.5 L205.9 758.7 L207.7 755.9" stroke-width="1.00"/>
<path d="M220.8 746.6 L223.6 752.1 L221.7 757.7 L226.4 755.9 L228.2 750.3 L232.9 757.7 L234.7 752.1 L231.9 749.3" stroke-width="1.00"/>
<path d="M212.4 765.2 L218.0 764.2 L222.6 763.3 L223.6 766.1 L217.0 768.0 L213.3 767.0 L209.6 770.8 L205.9 776.4 L204.9 781.9 L207.7 789.4 L212.4 796.8 L215.2 801.5" stroke-width="0.90"/>
<path d="M239.4 764.2 L246.8 768.9 L252.4 773.6" stroke-width="1.00"/>
<path d="M241.2 755.9 L248.7 763.3 L255.2 770.8" stroke-width="0.90"/>
<path d="M259.9 778.2 L269.2 780.1 L280.4 779.1 L291.5 778.2 L302.7 777.3 L313.9 775.4 L325.0 773.6 L333.4 771.7 L337.2 773.6 L339.9 778.2 L345.5 776.4 L350.0 774.5" stroke-width="0.90"/>
<path d="M259.9 781.9 L263.6 788.5 L271.0 792.2 L280.4 791.2 L286.9 788.5 L287.8 793.1 L291.5 798.7 L299.0 803.4 L308.3 805.2 L317.6 807.1 L326.9 806.1 L336.2 808.0 L345.5 809.9 L350.0 815.5" stroke-width="0.90"/>
<path d="M261.7 783.8 L265.5 790.3 L272.0 793.5 L280.4 792.7 L285.6 790.3 L286.3 794.0 L290.0 799.6 L298.0 804.7 L308.3 806.7 L317.6 808.6 L326.9 807.6 L336.2 809.5 L345.5 811.7" stroke-width="0.70"/>
<path d="M270.1 781.9 L271.2 786.0 L272.7 783.4" stroke-width="0.90"/>
<path d="M273.8 782.9 L275.0 787.0 L276.4 784.4" stroke-width="0.90"/>
<path d="M278.5 781.9 L279.6 786.0 L281.1 783.4" stroke-width="0.90"/>
<path d="M283.1 781.6 L284.3 785.7 L285.8 783.1" stroke-width="0.90"/>
<path d="M293.4 779.1 L294.5 783.2 L296.0 780.6" stroke-width="0.90"/>
<path d="M297.1 778.2 L298.2 782.3 L299.7 779.7" stroke-width="0.90"/>
<path d="M300.8 777.8 L302.0 781.9 L303.4 779.3" stroke-width="0.90"/>
<path d="M308.3 776.4 L309.4 780.4 L310.9 777.8" stroke-width="0.90"/>
<path d="M312.0 778.2 L313.1 782.3 L314.6 779.7" stroke-width="0.90"/>
<path d="M315.7 777.3 L316.9 781.4 L318.3 778.8" stroke-width="0.90"/>
<path d="M323.2 775.4 L324.3 779.5 L325.8 776.9" stroke-width="0.90"/>
<path d="M328.8 773.6 L329.9 777.7 L331.4 775.0" stroke-width="0.90"/>
<path d="M332.5 772.6 L333.6 776.7 L335.1 774.1" stroke-width="0.90"/>
<path d="M295.3 776.0 L296.7 774.1 L297.9 776.7" stroke-width="0.90"/>
<path d="M299.0 775.4 L300.5 773.6 L301.6 776.2" stroke-width="0.90"/>
<path d="M302.7 774.5 L304.2 772.6 L305.3 775.2" stroke-width="0.90"/>
<path d="M310.1 774.1 L311.6 772.3 L312.8 774.9" stroke-width="0.90"/>
<path d="M313.9 773.6 L315.4 771.7 L316.5 774.3" stroke-width="0.90"/>
<path d="M321.3 774.5 L322.8 772.6 L323.9 775.2" stroke-width="0.90"/>
<path d="M330.6 770.8 L332.1 768.9 L333.2 771.5" stroke-width="0.90"/>
<path d="M306.4 781.9 L309.8 783.1 L307.9 784.5" stroke-width="0.90"/>
<path d="M310.1 783.8 L313.5 784.9 L311.6 786.4" stroke-width="0.90"/>
<path d="M313.9 782.9 L317.2 784.0 L315.4 785.5" stroke-width="0.90"/>
<path d="M317.6 781.9 L320.9 783.1 L319.1 784.5" stroke-width="0.90"/>
<path d="M308.3 786.6 L311.6 787.7 L309.8 789.2" stroke-width="0.90"/>
<path d="M350.0 811.7 L336.2 808.9 L323.2 808.0 L310.1 807.1 L302.7 810.8 L295.3 814.5 L287.8 816.4 L278.5 819.2 L271.0 821.0 L265.5 826.6 L261.7 829.4 L258.0 828.5" stroke-width="1.00"/>
<path d="M215.2 801.5 L218.9 806.1 L224.5 809.9 L231.9 812.7 L238.5 811.7 L243.1 815.5 L250.6 821.0 L258.0 828.5 L263.6 834.1 L271.0 838.7 L280.4 843.4 L289.7 847.1 L299.0 851.8 L306.4 857.4 L312.0 860.0" stroke-width="0.80"/>
<path d="M198.4 799.6 L202.1 806.1 L209.6 811.7 L218.9 818.2 L228.2 822.9 L237.5 828.5 L246.8 834.1 L254.3 841.5 L261.7 849.0 L269.2 856.4 L272.9 860.0" stroke-width="0.80"/>
<path d="M267.3 844.3 L272.9 842.5 L284.1 845.3 L292.5 849.9 L293.4 853.6 L287.8 854.9 L278.5 852.7 L270.1 849.0 Z" stroke-width="0.80"/>
<path d="M198.4 799.6 L187.2 803.4 L177.9 807.1 L168.6 809.9 L159.3 811.7 L157.1 815.5 L157.8 822.9 L158.9 830.4 L157.4 837.8 L153.7 842.5 L150.0 844.3" stroke-width="0.80"/>
<path d="M205.9 808.0 L213.3 802.4 L218.0 806.1" stroke-width="0.80"/>
<path d="M168.6 834.1 L174.2 828.5 L179.8 824.8 L187.2 830.4 L181.7 834.1 L174.2 833.1 Z" stroke-width="0.80"/>
<path d="M161.2 828.5 L166.8 822.9 L177.9 820.1 L189.1 819.2 L196.6 822.9 L199.3 830.4 L198.4 837.8 L200.3 845.3 L205.9 847.1 L204.0 852.7 L209.6 860.0" stroke-width="0.80"/>
<path d="M189.1 839.7 L193.8 838.7 L195.6 847.1 L196.6 852.7 L193.2 849.0 L190.6 843.4 Z" stroke-width="0.80"/>
<path d="M170.5 849.0 L176.1 847.1 L174.2 849.9 Z" stroke-width="0.80"/>
<path d="M177.9 844.3 L183.5 843.0 L185.4 846.2 L179.8 847.5 Z" stroke-width="0.80"/>
<path d="M150.0 847.1 L157.4 845.3 L163.0 847.1 L168.6 849.0 L174.2 850.8 L181.7 849.0 L187.2 852.7 L190.0 857.4 L192.8 860.0" stroke-width="0.80"/>
<path d="M233.8 821.0 L237.5 820.7 L237.2 822.5" stroke-width="1.50"/>
<path d="M194.7 801.5 L198.0 802.0" stroke-width="1.30"/>
<path d="M119.2 850.0 L111.7 852.8 L108.0 859.3 L108.0 866.8 L111.7 873.3 L116.4 877.9 L119.2 878.9 L122.9 874.2 L130.4 870.5 L137.8 867.1 L141.5 865.8 L145.3 867.7 L146.2 870.5 L150.8 873.3 L156.4 876.1 L160.1 879.8 L162.9 885.4 L163.9 891.0 L167.6 894.7 L174.1 895.6 L176.9 893.8 L179.7 896.6 L183.4 901.2 L189.9 902.1 L200.0 900.3" stroke-width="0.80"/>
<path d="M188.1 850.0 L193.7 853.7 L197.4 858.4 L200.0 864.9" stroke-width="0.80"/>
<path d="M119.2 878.9 L118.2 884.5 L113.6 890.0 L117.3 893.8 L111.7 895.6 L106.1 898.0 L107.1 904.0 L106.1 907.7" stroke-width="1.00"/>
<path d="M111.7 888.2 L114.5 891.9 L119.2 892.8 L120.1 895.6 L116.4 894.7" stroke-width="1.00"/>
<path d="M106.1 907.7 L113.6 908.7 L119.2 910.5 L128.5 907.7 L137.8 905.5 L147.1 904.9 L154.6 906.8 L160.1 911.5 L163.9 918.9 L164.8 925.4 L160.1 929.1 L158.3 932.9 L154.6 933.8 L149.0 931.0 L141.5 930.4 L134.1 929.1 L128.5 930.1 L121.0 932.9 L116.4 936.6 L113.6 939.4" stroke-width="0.80"/>
<path d="M92.2 913.3 L85.7 910.0 L78.2 909.6 L70.8 911.5 L61.5 917.0 L52.1 923.6 L42.8 929.1 L38.2 934.7 L38.7 939.4 L44.7 943.1 L50.3 948.7 L54.9 956.1 L59.6 963.6 L65.2 969.2 L71.7 973.8 L76.4 976.6 L79.1 972.9 L81.9 965.5 L85.7 957.1 L91.2 949.6 L96.8 945.0 L101.5 939.4 L102.4 932.9 L100.6 926.4 L96.8 921.7 L93.1 918.0 Z" stroke-width="0.80"/>
<path d="M92.2 913.3 L96.8 911.5 L106.1 907.7" stroke-width="0.80"/>
<path d="M101.5 923.6 L106.1 928.2 L108.0 935.7 L111.7 941.2 L113.6 945.0 L117.3 941.2 L115.5 937.5 L111.7 934.7 L109.9 930.1 L107.1 924.5 L111.7 922.6" stroke-width="0.90"/>
<path d="M104.3 926.4 L107.1 931.9 L109.9 938.5 L112.7 942.2" stroke-width="0.90"/>
<path d="M125.7 931.9 L130.4 929.1 L133.1 931.0 L128.5 932.3 Z" stroke-width="0.90"/>
<path d="M113.6 939.4 L119.2 935.7 L126.6 931.9 L134.1 930.1 L143.4 930.1 L154.6 934.7 L163.9 933.8 L173.2 933.8 L175.0 937.5 L178.8 941.2 L186.2 942.2 L193.7 945.0 L197.4 946.8 L195.5 954.3 L194.6 961.7 L195.5 971.0 L197.4 978.5 L200.0 980.4" stroke-width="0.80"/>
<path d="M76.4 976.6 L83.8 976.6 L91.2 974.8 L98.7 972.9 L104.3 973.8 L109.9 976.6 L114.5 980.4 L116.4 985.9 L119.2 990.6 L126.6 991.5 L132.2 994.3 L137.8 999.0 L145.3 1001.8 L154.6 999.9 L163.9 997.1 L167.6 991.5 L170.4 984.1 L172.3 977.6 L176.9 973.8 L184.4 971.0 L188.1 972.9 L193.7 976.6 L197.4 979.4" stroke-width="0.80"/>
<path d="M100.6 972.9 L104.3 969.2 L109.9 967.3 L114.5 966.4 L113.6 962.7 L110.8 961.7 L111.7 969.2 L115.5 972.9" stroke-width="0.90"/>
<path d="M106.1 971.0 L109.9 972.9 L113.6 976.6" stroke-width="0.90"/>
<path d="M18.6 1010.0 L17.7 1006.4 L22.3 1001.8 L29.8 999.0 L39.1 997.1 L48.4 994.3 L57.7 991.5 L65.2 992.5 L70.8 995.3 L76.4 999.0 L81.9 1002.7 L89.4 1005.5 L96.8 1007.4 L104.3 1009.2 L106.1 1010.0" stroke-width="0.80"/>
<path d="M178.8 1010.0 L181.6 1000.8 L186.2 996.2 L189.9 994.3 L190.9 997.1 L197.4 996.2 L200.0 997.1" stroke-width="0.90"/>
<path d="M240.1 830.0 L247.5 835.6 L255.0 843.0 L260.6 850.5 L268.0 856.1 L276.4 860.7 L282.9 865.4 L290.4 868.2 L297.8 870.0 L307.1 872.8 L318.3 874.7 L327.6 873.8 L338.8 871.9 L348.1 869.1 L353.7 867.2 L360.0 866.3" stroke-width="0.80"/>
<path d="M259.6 830.0 L266.1 835.6 L275.5 839.3 L286.6 843.0 L295.9 848.6 L301.5 854.2 L307.1 857.9 L314.6 860.7 L323.9 862.6 L333.2 865.4 L342.5 864.5 L351.8 861.7 L360.0 859.8" stroke-width="0.80"/>
<path d="M267.1 844.0 L271.7 842.1 L281.0 844.5 L290.4 848.6 L293.1 852.0 L290.4 854.2 L282.9 853.8 L275.5 851.4 L268.9 847.7 Z" stroke-width="0.80"/>
<path d="M351.8 867.2 L353.7 877.5" stroke-width="1.00"/>
<path d="M355.5 867.2 L357.4 876.6" stroke-width="1.00"/>
<path d="M351.8 867.2 L360.0 865.4" stroke-width="1.00"/>
<path d="M293.1 867.2 L294.6 869.5 L296.1 867.2" stroke-width="1.00"/>
<path d="M296.9 868.2 L298.4 870.4 L299.9 868.2" stroke-width="1.00"/>
<path d="M300.6 868.7 L302.1 871.0 L303.6 868.7" stroke-width="1.00"/>
<path d="M304.3 868.2 L305.8 870.4 L307.3 868.2" stroke-width="1.00"/>
<path d="M308.0 867.2 L309.5 869.5 L311.0 867.2" stroke-width="1.00"/>
<path d="M303.4 870.0 L307.1 873.8 L310.8 868.2 L306.2 871.9" stroke-width="1.00"/>
<path d="M305.3 857.9 L304.3 867.2 L301.5 874.7 L297.8 880.3 L290.4 885.9 L281.0 889.6 L271.7 892.4 L264.3 895.2 L256.8 898.0 L251.2 901.7 L247.5 906.4 L246.0 911.9 L248.5 917.5 L252.2 922.2 L255.9 926.8 L258.7 932.4 L258.7 939.9 L255.9 945.5 L253.1 951.0" stroke-width="0.90"/>
<path d="M297.8 884.9 L303.4 891.5 L309.0 895.2 L312.7 900.8 L316.4 904.5 L319.8 905.0" stroke-width="1.10"/>
<path d="M264.3 896.1 L269.9 902.6 L275.5 905.4 L281.0 907.3 L286.6 909.1 L282.9 910.1 L279.2 911.9" stroke-width="1.10"/>
<path d="M160.0 846.8 L167.4 850.5 L174.9 848.6 L184.2 847.7 L187.9 852.3 L191.7 857.9 L197.2 863.5 L204.7 861.7 L210.3 859.8 L217.7 861.7 L225.2 863.5 L232.6 865.4 L238.2 869.1 L240.1 872.8 L236.4 875.6 L228.9 876.2 L223.3 879.3 L220.5 881.2" stroke-width="0.80"/>
<path d="M239.1 873.8 L247.5 876.6 L256.8 879.3 L264.3 884.0 L271.7 884.9 L279.2 884.0 L288.5 881.2 L295.9 878.4 L299.7 874.7" stroke-width="0.80"/>
<path d="M222.4 880.3 L225.2 876.6 L230.8 875.6 L238.2 874.7" stroke-width="1.00"/>
<path d="M233.6 884.0 L240.1 883.1 L242.9 885.9 L247.5 891.5 L245.7 893.3 L241.9 887.7 L237.3 885.9" stroke-width="1.10"/>
<path d="M236.4 881.2 L241.9 880.7 L243.8 884.0" stroke-width="1.10"/>
<path d="M221.5 891.5 L225.2 887.7 L232.6 886.8 L238.2 889.6 L243.8 892.4 L249.4 894.2 L256.8 896.1" stroke-width="0.80"/>
<path d="M160.0 880.3 L163.7 887.7 L167.4 894.2 L173.0 896.1 L177.7 894.2 L180.5 898.9 L184.2 901.7 L191.7 900.8 L199.1 898.0 L206.6 897.0 L214.0 895.2 L219.6 893.3 L221.5 890.5" stroke-width="0.80"/>
<path d="M189.8 915.7 L193.5 911.9 L201.0 908.2 L208.4 905.4 L215.9 904.5 L223.3 906.4 L228.0 910.1 L234.5 908.2 L240.1 906.4 L241.9 904.5 L247.5 906.4" stroke-width="0.80"/>
<path d="M224.2 907.3 L227.0 911.0 L229.8 909.1" stroke-width="1.00"/>
<path d="M189.8 915.7 L192.6 919.4 L200.0 922.2 L204.7 928.7 L210.3 934.3 L214.0 939.9 L219.6 942.7 L225.2 943.6 L230.8 942.7 L236.4 945.5 L241.9 949.2 L247.5 952.9 L253.1 951.0" stroke-width="0.80"/>
<path d="M160.0 930.6 L167.4 934.3 L174.9 938.9 L178.6 941.7 L186.1 941.7 L193.5 944.5 L197.2 946.4 L202.8 949.2 L208.4 952.9 L209.3 958.5 L211.2 964.1 L215.9 971.5 L219.6 977.1 L225.2 980.8 L230.8 983.6 L238.2 981.8 L243.8 979.0 L249.4 980.8 L255.0 983.6" stroke-width="0.80"/>
<path d="M197.2 946.4 L195.4 952.9 L194.5 960.4 L195.0 969.7 L196.3 979.0" stroke-width="1.30"/>
<path d="M253.1 951.0 L255.9 956.6 L255.0 964.1 L254.0 971.5 L255.0 979.0 L256.8 986.4 L257.8 990.0" stroke-width="1.40"/>
<path d="M256.8 941.7 L254.6 949.2 L253.1 951.0" stroke-width="1.00"/>
<path d="M238.2 949.2 L243.8 952.0 L242.9 954.8 L247.5 954.4" stroke-width="1.00"/>
<path d="M258.7 951.0 L262.4 953.8 L264.3 958.5 L269.9 960.4 L270.8 964.1 L267.1 963.1" stroke-width="0.90"/>
<path d="M261.5 972.5 L263.9 971.2 L265.8 973.0 L263.4 974.9 Z" stroke-width="0.90"/>
<path d="M258.7 979.0 L264.3 977.1 L268.0 979.0 L268.9 986.4 L264.3 989.2" stroke-width="0.90"/>
<path d="M297.8 979.0 L305.3 975.3 L314.6 970.6 L323.9 966.9 L333.2 965.0 L341.6 963.1 L343.4 967.8 L340.6 975.3 L339.7 982.7 L340.6 990.0" stroke-width="0.70"/>
<path d="M297.8 979.0 L301.5 980.8 L302.5 984.6 L299.7 987.4" stroke-width="0.70"/>
<path d="M346.2 988.3 L353.7 986.4 L360.0 985.5" stroke-width="0.70"/>
<path d="M160.0 978.0 L167.4 977.1 L174.9 973.4 L182.3 971.5 L187.9 970.6 L191.7 974.3 L196.3 979.0" stroke-width="0.80"/>
<path d="M18.2 1007.5 L25.1 1001.9 L36.3 998.5 L47.5 994.9 L58.7 991.3 L67.0 993.0 L75.4 997.7 L83.8 1001.9 L92.2 1006.1 L100.6 1010.3 L110.3 1014.5 L120.1 1018.7 L128.5 1020.1 L136.9 1020.1 L145.3 1022.8 L153.6 1020.1 L162.0 1015.9 L170.4 1013.1 L178.8 1011.7 L184.4 1007.5 L187.2 999.1 L189.9 994.9 L195.5 996.3 L199.7 1001.9 L201.1 1007.5 L205.3 1013.1 L212.3 1015.9 L220.7 1017.3 L223.5 1020.1 L227.7 1025.6 L233.2 1028.4 L240.2 1024.2 L245.8 1020.1 L251.4 1017.3 L257.0 1015.9 L255.6 1021.5 L251.4 1029.8 L243.0 1036.8 L234.6 1043.8 L226.3 1050.8 L217.9 1057.8 L209.5 1064.7 L201.1 1067.5 L192.7 1070.3 L184.4 1074.5 L176.0 1078.7 L167.6 1082.9 L160.6 1084.3 L157.8 1081.5 L155.0 1078.7 L145.3 1080.1 L136.9 1080.1 L133.5 1074.5 L134.1 1066.1 L131.3 1059.2 L125.7 1056.4 L117.3 1053.6 L108.9 1050.8 L99.2 1046.6 L89.4 1042.4 L81.0 1038.2 L75.4 1041.0 L69.8 1043.8 L62.8 1042.4 L57.3 1045.2 L58.7 1055.0 L60.1 1063.4 L47.5 1064.7 L36.3 1063.9 L30.7 1057.8 L25.1 1055.0 L19.6 1048.0 L16.8 1041.0 L14.0 1031.2 L18.2 1024.2 L21.8 1017.3 L18.2 1011.7 Z" stroke-width="0.80"/>
<path d="M139.7 1022.8 L142.5 1032.6 L145.3 1043.8 L146.6 1052.2 L142.5 1060.6 L138.3 1068.9 L136.9 1077.3" stroke-width="1.40"/>
<path d="M152.2 1024.2 L155.0 1034.0 L160.6 1041.0 L164.2 1043.0" stroke-width="1.10"/>
<path d="M120.1 987.9 L128.5 992.1 L139.7 1001.9 L148.0 1001.9 L156.4 999.1 L164.8 996.3 L167.6 987.9 L171.8 976.8 L178.8 972.6 L185.8 970.6 L192.7 974.0 L196.9 979.6 L206.7 985.1 L215.1 990.7 L223.5 993.5 L231.8 996.3 L240.2 994.9 L251.4 997.7 L258.4 1001.9" stroke-width="0.80"/>
<path d="M192.7 960.0 L195.5 971.2 L196.9 979.6" stroke-width="0.80"/>
<path d="M206.7 960.0 L212.3 968.4 L220.7 976.8 L229.1 982.3 L237.4 983.7 L245.8 979.6 L252.8 980.9" stroke-width="0.80"/>
<path d="M252.8 960.0 L255.6 974.0 L258.4 987.9 L259.8 1001.9 L264.0 1006.1 L268.2 1008.0" stroke-width="1.40"/>
<path d="M268.2 1008.0 L276.5 1008.9 L284.9 1008.9 L286.3 1015.9 L293.3 1018.7 L300.0 1019.2" stroke-width="0.70"/>
<path d="M226.3 1015.9 L231.8 1013.1 L240.2 1010.3 L247.2 1009.7 L245.8 1014.5 L238.8 1017.3 L233.2 1020.1 L230.4 1024.2 L236.0 1026.5 L243.0 1021.5" stroke-width="1.20"/>
<path d="M229.1 1020.1 L237.4 1014.5 L244.4 1012.5" stroke-width="1.20"/>
<path d="M298.4 978.8 L313.5 970.4 L325.3 965.4 L342.0 963.0 L344.4 968.7 L339.7 978.8 L341.0 988.8 L352.1 985.5 L363.8 987.8 L370.5 989.8 L377.2 987.8 L377.9 980.5 L387.3 972.1 L395.7 962.0 L404.0 954.3 L412.4 956.3 L419.1 960.3 L424.8 965.4 L424.8 973.8 L420.8 980.5 L420.8 988.8 L424.2 991.2 L417.4 989.8 L409.1 986.5 L405.7 988.8 L406.7 993.9 L417.4 997.2 L430.9 995.5 L440.9 995.5 L445.9 1002.2 L449.3 1002.2 L457.7 992.2 L469.4 982.1 L472.8 970.4 L479.5 962.0 L481.1 968.7 L491.2 969.7 L498.6 987.2 L489.5 1004.6 L501.3 1017.3 L505.3 1025.7 L507.3 1038.1 L514.7 1040.1 L524.7 1035.8 L536.5 1043.5 L532.1 1060.9 L538.1 1061.6 L551.5 1062.6 L563.3 1060.9 L564.9 1055.9 L575.0 1059.2 L585.1 1061.6 L593.4 1053.5 L603.5 1045.8 L611.9 1047.5 L623.6 1060.9 L625.3 1079.3 L640.0 1086.1" stroke-width="0.70"/>
<path d="M298.4 978.8 L301.8 983.8 L300.1 992.2 L306.8 1002.2 L311.8 1010.6 L310.2 1015.7 L300.1 1019.0 L286.7 1017.3 L285.0 1010.0 L280.0 1009.0" stroke-width="0.70"/>
<path d="M717.3 860.0 L727.7 861.3 L733.0 865.2 L734.3 875.6 L733.0 880.9 L736.9 884.8 L735.6 890.0 L742.1 895.2 L748.6 900.4 L752.5 909.5 L755.1 918.7 L756.4 929.1 L761.6 933.0 L768.1 936.1 L774.7 935.6 L778.6 940.8 L785.1 947.3 L791.6 953.8 L792.9 963.0 L795.0 970.8 L791.6 978.6 L788.2 986.4 L789.0 993.0 L787.7 999.5 L790.3 1006.0 L792.4 1011.2 L787.7 1017.7 L782.5 1022.9 L778.6 1029.4 L777.3 1036.0 L772.1 1042.5 L762.9 1047.7 L756.4 1052.9 L749.9 1060.2 L748.1 1068.6 L742.9 1076.4 L735.6 1084.2 L729.0 1090.7 L725.1 1097.2 L726.4 1100.1" stroke-width="1.30"/>
<path d="M742.9 1076.4 L742.1 1084.2 L738.2 1090.7 L731.6 1093.3 L726.4 1098.5" stroke-width="0.90"/>
<path d="M756.4 860.0 L751.2 863.9 L752.5 878.2 L764.2 883.5 L777.3 886.1 L774.7 896.5 L770.8 903.0 L770.8 909.5 L779.9 916.0 L787.7 925.2 L794.2 936.9 L800.7 946.0 L804.6 955.2 L807.2 966.9 L805.9 979.9 L804.6 990.3 L803.3 1000.8 L808.6 1000.8 L805.9 1004.7 L808.6 1017.7 L800.7 1026.8 L794.2 1029.4 L791.6 1037.3 L786.4 1046.4 L779.9 1055.5 L772.1 1064.6 L765.5 1069.9 L769.4 1077.7 L765.5 1081.6 L766.8 1094.6 L770.8 1100.1" stroke-width="0.70"/>
<path d="M778.6 1098.5 L792.9 1091.5 L796.8 1094.6 L787.7 1100.1" stroke-width="0.70"/>
<path d="M753.8 932.5 L746.0 925.2 L736.9 929.1 L727.7 932.5 L718.6 933.5 L713.4 929.9 L700.4 927.3 L701.7 938.2 L704.3 951.2 L707.4 961.7 L709.5 977.3 L714.7 987.7 L721.2 998.2 L727.0 1007.3 L718.6 1015.1 L710.8 1021.6 L686.0 1029.4 L656.0 1038.6 L648.2 1047.7 L641.7 1056.8 L640.4 1076.4 L626.1 1080.3" stroke-width="0.90"/>
<path d="M600.0 1049.8 L603.9 1045.6 L611.7 1047.7 L618.2 1054.2 L623.5 1060.2 L624.0 1068.6 L624.8 1079.0 L626.1 1080.3" stroke-width="0.70"/>
<path d="M626.1 1080.0 L639.1 1085.2 L649.5 1090.4 L652.1 1095.6 L660.0 1096.9 L667.8 1097.7 L675.6 1095.6 L683.4 1098.8 L684.7 1106.1 L689.9 1108.7 L696.5 1104.8 L703.0 1110.0 L709.5 1112.6 L713.4 1111.3" stroke-width="0.70"/>
<path d="M740.8 1080.0 L735.6 1086.5 L727.7 1094.3 L722.5 1102.2 L714.7 1107.4 L713.4 1111.3 L709.5 1121.7 L701.7 1136.0 L695.2 1149.1 L689.9 1163.4 L683.4 1177.8 L678.2 1189.5 L679.5 1198.6 L675.6 1207.7 L669.1 1222.1 L663.9 1233.8 L662.6 1237.7 L662.6 1249.4 L663.1 1262.5 L663.9 1274.2 L661.3 1280.7 L660.0 1285.9" stroke-width="1.30"/>
<path d="M740.8 1080.0 L742.1 1085.2 L738.2 1091.7 L731.6 1095.6 L727.7 1099.6 L730.3 1104.8 L733.5 1105.5 L733.0 1100.9 L729.0 1099.6" stroke-width="0.90"/>
<path d="M713.4 1111.3 L704.3 1116.5 L697.8 1121.7 L693.8 1128.2 L696.5 1134.7 L691.2 1138.7 L693.8 1145.2 L688.6 1150.4 L687.3 1155.6 L682.1 1158.2 L684.7 1166.0 L680.8 1172.5 L684.7 1177.8" stroke-width="0.70"/>
<path d="M678.2 1189.5 L673.0 1190.8 L669.9 1194.7 L673.0 1197.3 L678.2 1196.0" stroke-width="0.70"/>
<path d="M678.2 1202.5 L673.0 1210.3 L667.8 1215.6 L662.6 1220.8 L658.7 1228.6 L662.6 1236.4" stroke-width="0.70"/>
<path d="M765.5 1080.0 L766.8 1093.0 L772.1 1100.9 L779.9 1099.6 L792.9 1091.7 L796.8 1094.3 L787.7 1099.6 L795.5 1106.1 L782.5 1112.6 L772.1 1119.1 L762.9 1128.2 L751.2 1136.0 L742.1 1145.2 L735.6 1160.8 L730.3 1161.3 L722.5 1148.3 L709.5 1155.6 L713.4 1168.6 L719.9 1175.2 L718.6 1186.9 L725.1 1185.6 L734.3 1183.0 L743.4 1186.4 L754.3 1184.8 L749.9 1196.0 L753.8 1206.4 L764.2 1210.3 L773.4 1213.0 L769.4 1223.4 L772.1 1233.8 L768.1 1244.2 L762.9 1241.6 L753.8 1246.8 L752.5 1259.9 L742.1 1265.1 L748.6 1270.3 L755.9 1276.8 L752.5 1285.9 L740.8 1285.9 L733.0 1283.3 L725.1 1287.2 L717.3 1282.0 L712.1 1280.7 L705.6 1285.9 L695.2 1283.3 L688.6 1278.1 L683.4 1274.2 L678.2 1279.4 L674.3 1283.3 L667.8 1280.7 L663.9 1285.9 L660.0 1285.9" stroke-width="0.70"/>
<path d="M662.6 1237.7 L654.7 1231.2 L649.5 1233.8 L646.9 1244.2 L650.8 1254.7 L656.0 1259.9 L662.6 1261.2" stroke-width="0.70"/>
</g>
<g font-size="33.5" fill="#000" opacity="0.999">
<rect x="25" y="205.05" width="27.8" height="27.8" rx="1.2" fill="#ff0000"/>
<text x="57.5" y="228.55" xml:space="preserve">≤-4 (29)</text>
<rect x="25" y="241.05" width="27.8" height="27.8" rx="1.2" fill="#ff4040"/>
<text x="57.5" y="264.55" xml:space="preserve">-3 (19)</text>
<rect x="25" y="277.05" width="27.8" height="27.8" rx="1.2" fill="#ff8080"/>
<text x="57.5" y="300.55" xml:space="preserve">-2 (41)</text>
<rect x="25" y="313.05" width="27.8" height="27.8" rx="1.2" fill="#ffbfbf"/>
<text x="57.5" y="336.55" xml:space="preserve">-1 (80)</text>
<rect x="25" y="349.05" width="27.8" height="27.8" rx="1.2" fill="#ffffe0"/>
<text x="57.5" y="372.55" xml:space="preserve"> 0 (44)</text>
<rect x="25" y="385.05" width="27.8" height="27.8" rx="1.2" fill="#bfcaff"/>
<text x="57.5" y="408.55" xml:space="preserve"> 1 (144)</text>
<rect x="25" y="421.05" width="27.8" height="27.8" rx="1.2" fill="#8095ff"/>
<text x="57.5" y="444.55" xml:space="preserve"> 2 (38)</text>
<rect x="25" y="457.05" width="27.8" height="27.8" rx="1.2" fill="#4060ff"/>
<text x="57.5" y="480.55" xml:space="preserve"> 3 (22)</text>
<rect x="25" y="493.05" width="27.8" height="27.8" rx="1.2" fill="#0000ff"/>
<text x="57.5" y="516.55" xml:space="preserve">≥4 (33)</text>
<rect x="25" y="529.05" width="27.8" height="27.8" rx="1.2" fill="#e0e0e0"/>
<text x="57.5" y="552.55" xml:space="preserve">unk. (82)</text>
</g>
<g font-size="20" fill="#89969c" opacity="0.999">
<text x="134" y="1290.3" xml:space="preserve">Brant Goose - Branta bernicla</text>
<text x="134" y="1309.8" xml:space="preserve">Abundance change wintering  2013-2015 vs 1979-1983</text>
<text x="134" y="1329.4" xml:space="preserve">© Sovon Vogelonderzoek Nederland (Vogelatlas)</text>
</g>
<g opacity="0.999">
<path d="M41.2 1241.1 L44.2 1245.3 L47.8 1250.7 L51.4 1256.8 L54.5 1262.2 L56.9 1266.7 L58.7 1271.1 L59.3 1274.3 L58.9 1277.1 L55.7 1277.4 L52.0 1278.3 L48.4 1279.8 L45.4 1281.6 L41.8 1282.2 L43.0 1278.6 L44.2 1275.5 L41.8 1271.3 L39.9 1265.9 L38.7 1260.4 L38.4 1255.0 L38.7 1249.5 L39.7 1245.3 Z" fill="#505050" stroke="#505050" stroke-width="0.4" stroke-linejoin="round"/>
<path d="M50.8 1291.3 L56.9 1288.9 L61.7 1286.4 L64.8 1285.8 L67.8 1288.9 L70.8 1293.1 L72.6 1297.9 L74.1 1303.4 L69.0 1303.7 L64.1 1302.8 L59.9 1301.0 L56.3 1297.9 L53.3 1294.9 Z" fill="#505050" stroke="#505050" stroke-width="0.4" stroke-linejoin="round"/>
<path d="M35.1 1289.2 L40.5 1290.4 L37.5 1294.3 L32.7 1296.1 L30.9 1293.3 Z" fill="#5c5c5c"/>
<path d="M33.9 1288.3 L37.5 1285.8 L41.8 1283.4 L46.0 1281.0 L50.8 1279.2 L55.7 1277.7 L58.9 1277.4 L59.5 1281.0 L60.5 1284.6 L59.9 1287.0 L56.9 1288.9 L52.0 1290.9 L47.2 1291.3 L42.4 1290.9 L37.5 1290.1 L33.9 1289.5 Z" fill="#bdbdbd"/>
<path d="M59.1 1277.6 L61.7 1277.1 L64.8 1277.6 L66.3 1278.6 L64.8 1281.6 L62.9 1284.0 L61.1 1286.4 L59.5 1287.0 L58.1 1284.0 L57.9 1281.0 Z" fill="#111"/>
<path d="M62.9 1279.2 L66.0 1278.6 L68.0 1279.5 L66.3 1281.6 L64.8 1283.4 L62.9 1284.6 L62.3 1281.6 Z" fill="#8c8c8c"/>
<path d="M34.5 1287.4 L24.2 1289.5 L12.1 1292.5 L1.8 1295.8 L12.1 1293.9 L24.2 1291.5 L34.5 1289.7 Z" fill="#707070"/>
<path d="M39.9 1290.7 L35.1 1295.5 L26.6 1301.0 L12.7 1306.7 L25.4 1299.8 L30.9 1295.5 L32.4 1291.9 Z" fill="#666"/>
<path d="M41.4 1243.5 L44.2 1251.9 L46.0 1261.6 L46.6 1271.3 L44.5 1280.0" fill="none" stroke="#8a8a8a" stroke-width="0.35"/>
<path d="M39.3 1259.8 L44.8 1259.0 L49.6 1259.8 L53.9 1263.4 L57.1 1268.3" fill="none" stroke="#8a8a8a" stroke-width="0.35"/>
<path d="M47.8 1275.5 L53.3 1271.3 L58.3 1269.1" fill="none" stroke="#8a8a8a" stroke-width="0.35"/>
<path d="M54.5 1291.9 L61.7 1294.3 L67.8 1297.9 L72.6 1302.8" fill="none" stroke="#8a8a8a" stroke-width="0.35"/>
<path d="M62.9 1287.0 L66.0 1293.1 L66.6 1302.8" fill="none" stroke="#8a8a8a" stroke-width="0.35"/>
<text x="33.0" y="1325.8" font-size="30.7" fill="#4a4a4a" textLength="81.6" lengthAdjust="spacingAndGlyphs">Sovon</text>
</g>
</svg></body></html>
